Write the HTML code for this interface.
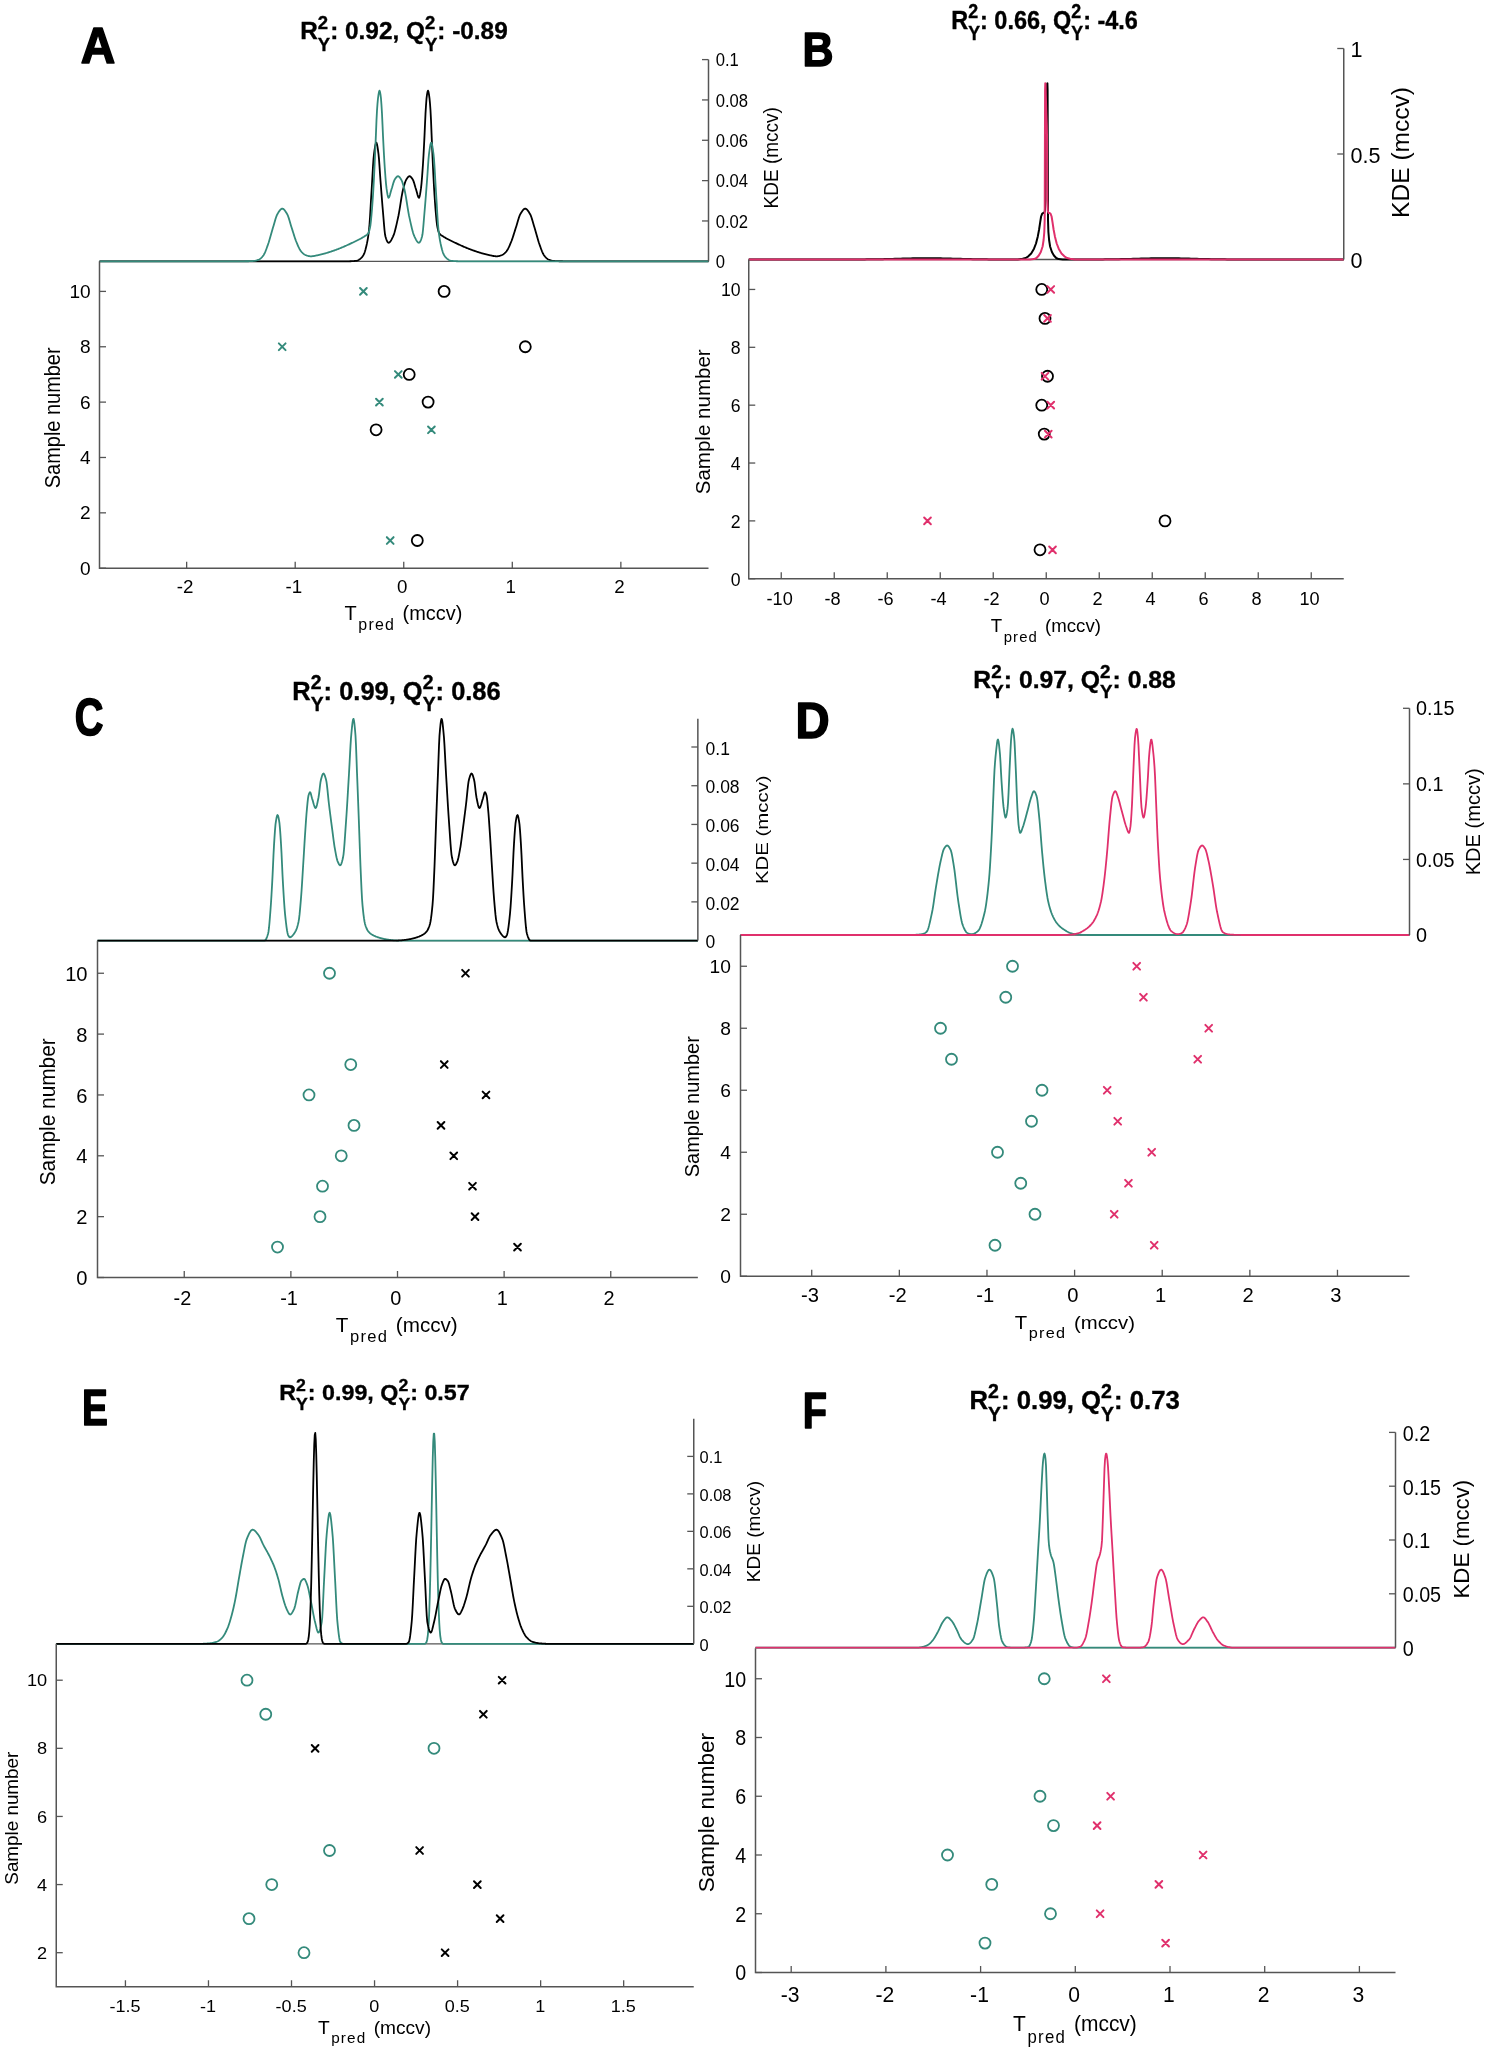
<!DOCTYPE html><html><head><meta charset="utf-8"><style>html,body{margin:0;padding:0;background:#fff;}svg{display:block;will-change:transform;}</style></head><body><svg width="1488" height="2051" viewBox="0 0 1488 2051" font-family='"Liberation Sans", sans-serif' fill="#000">
<rect width="1488" height="2051" fill="#fff"/>
<path d="M99.5 261.3H708.5" stroke="#555555" stroke-width="1.3" fill="none"/>
<path d="M99.50 261.30L349.00 261.29L349.50 261.28L350.00 261.26L350.50 261.25L351.00 261.23L351.50 261.20L352.00 261.18L352.50 261.15L353.00 261.12L353.50 261.08L354.00 261.04L354.50 261.00L355.00 260.95L355.50 260.91L356.00 260.85L356.50 260.80L357.00 260.70L357.50 260.54L358.00 260.31L358.50 260.03L359.00 259.71L359.50 259.36L360.00 258.99L360.50 258.60L361.00 258.18L361.50 257.69L362.00 257.13L362.50 256.48L363.00 255.75L363.50 254.93L364.00 254.00L364.50 252.80L365.00 251.30L365.50 249.54L366.00 247.58L366.50 245.47L367.00 243.17L367.50 240.58L368.00 237.60L368.50 234.14L369.00 230.10L369.50 224.57L370.00 217.20L370.50 208.80L371.00 200.14L371.50 192.00L372.00 183.77L372.50 174.93L373.00 166.40L373.50 159.11L374.00 154.00L374.50 150.34L375.00 147.04L375.50 144.43L376.00 142.88L376.50 142.74L377.00 144.18L377.50 146.83L378.00 150.25L378.50 154.00L379.00 159.14L379.50 166.15L380.00 173.75L380.50 180.71L381.00 187.29L381.50 193.85L382.00 200.29L382.50 206.45L383.00 212.24L383.50 218.30L384.00 224.44L384.50 229.99L385.00 234.30L385.50 236.74L386.00 238.35L386.50 239.78L387.00 240.97L387.50 241.90L388.00 242.52L388.50 242.79L389.00 242.72L389.50 242.43L390.00 241.94L390.50 241.29L391.00 240.51L391.50 239.62L392.00 238.65L392.50 237.64L393.00 236.61L393.50 235.49L394.00 234.13L394.50 232.55L395.00 230.78L395.50 228.85L396.00 226.78L396.50 224.62L397.00 222.39L397.50 220.13L398.00 217.85L398.50 215.48L399.00 212.79L399.50 209.86L400.00 206.78L400.50 203.63L401.00 200.49L401.50 197.44L402.00 194.57L402.50 191.96L403.00 189.69L403.50 187.77L404.00 185.94L404.50 184.21L405.00 182.64L405.50 181.25L406.00 180.11L406.50 179.25L407.00 178.49L407.50 177.78L408.00 177.15L408.50 176.65L409.00 176.32L409.50 176.20L410.00 176.31L410.50 176.62L411.00 177.09L411.50 177.69L412.00 178.37L412.50 179.10L413.00 179.93L413.50 181.12L414.00 182.60L414.50 184.26L415.00 185.98L415.50 187.66L416.00 189.20L416.50 190.91L417.00 192.80L417.50 194.66L418.00 196.26L418.50 197.38L419.00 197.80L419.50 196.92L420.00 194.67L420.50 191.58L421.00 188.19L421.50 183.62L422.00 177.70L422.50 170.94L423.00 163.71L423.50 155.23L424.00 145.82L424.50 135.89L425.00 124.49L425.50 113.71L426.00 105.48L426.50 98.71L427.00 94.67L427.50 91.81L428.00 90.60L428.50 91.86L429.00 94.71L429.50 98.29L430.00 103.61L430.50 110.47L431.00 119.96L431.50 132.61L432.00 144.64L432.50 156.23L433.00 167.09L433.50 177.38L434.00 186.91L434.50 195.15L435.00 202.53L435.50 209.17L436.00 215.00L436.50 220.32L437.00 224.73L437.50 227.56L438.00 229.86L438.50 231.69L439.00 232.96L439.50 233.70L440.00 234.25L440.50 234.69L441.00 235.06L441.50 235.38L442.00 235.68L442.50 236.00L443.00 236.33L443.50 236.66L444.00 236.97L444.50 237.28L445.00 237.58L445.50 237.88L446.00 238.17L446.50 238.45L447.00 238.72L447.50 238.99L448.00 239.26L448.50 239.52L449.00 239.78L449.50 240.03L450.00 240.28L450.50 240.53L451.00 240.77L451.50 241.02L452.00 241.26L452.50 241.50L453.00 241.74L453.50 241.97L454.00 242.21L454.50 242.45L455.00 242.69L455.50 242.93L456.00 243.17L456.50 243.40L457.00 243.64L457.50 243.87L458.00 244.11L458.50 244.34L459.00 244.57L459.50 244.80L460.00 245.03L460.50 245.26L461.00 245.48L461.50 245.71L462.00 245.93L462.50 246.15L463.00 246.37L463.50 246.59L464.00 246.81L464.50 247.02L465.00 247.24L465.50 247.45L466.00 247.66L466.50 247.87L467.00 248.07L467.50 248.27L468.00 248.48L468.50 248.67L469.00 248.87L469.50 249.07L470.00 249.26L470.50 249.45L471.00 249.64L471.50 249.82L472.00 250.00L472.50 250.18L473.00 250.36L473.50 250.53L474.00 250.71L474.50 250.88L475.00 251.05L475.50 251.22L476.00 251.39L476.50 251.56L477.00 251.73L477.50 251.90L478.00 252.06L478.50 252.22L479.00 252.38L479.50 252.54L480.00 252.70L480.50 252.85L481.00 253.00L481.50 253.15L482.00 253.30L482.50 253.44L483.00 253.59L483.50 253.72L484.00 253.86L484.50 253.99L485.00 254.12L485.50 254.24L486.00 254.36L486.50 254.48L487.00 254.59L487.50 254.70L488.00 254.81L488.50 254.92L489.00 255.03L489.50 255.15L490.00 255.27L490.50 255.38L491.00 255.49L491.50 255.60L492.00 255.71L492.50 255.81L493.00 255.90L493.50 255.99L494.00 256.07L494.50 256.14L495.00 256.20L495.50 256.24L496.00 256.28L496.50 256.30L497.00 256.30L497.50 256.27L498.00 256.22L498.50 256.13L499.00 256.02L499.50 255.89L500.00 255.75L500.50 255.59L501.00 255.41L501.50 255.24L502.00 255.04L502.50 254.79L503.00 254.49L503.50 254.15L504.00 253.77L504.50 253.34L505.00 252.87L505.50 252.38L506.00 251.85L506.50 251.28L507.00 250.62L507.50 249.84L508.00 248.95L508.50 247.96L509.00 246.91L509.50 245.79L510.00 244.63L510.50 243.44L511.00 242.24L511.50 241.00L512.00 239.65L512.50 238.21L513.00 236.70L513.50 235.14L514.00 233.56L514.50 231.96L515.00 230.37L515.50 228.81L516.00 227.29L516.50 225.68L517.00 223.98L517.50 222.26L518.00 220.54L518.50 218.89L519.00 217.34L519.50 215.94L520.00 214.75L520.50 213.80L521.00 212.99L521.50 212.19L522.00 211.43L522.50 210.71L523.00 210.07L523.50 209.51L524.00 209.08L524.50 208.77L525.00 208.61L525.50 208.63L526.00 208.82L526.50 209.15L527.00 209.62L527.50 210.19L528.00 210.85L528.50 211.57L529.00 212.35L529.50 213.15L530.00 213.97L530.50 214.96L531.00 216.17L531.50 217.57L532.00 219.11L532.50 220.76L533.00 222.47L533.50 224.20L534.00 225.92L534.50 227.58L535.00 229.21L535.50 230.92L536.00 232.69L536.50 234.49L537.00 236.30L537.50 238.08L538.00 239.82L538.50 241.48L539.00 243.03L539.50 244.47L540.00 245.89L540.50 247.30L541.00 248.69L541.50 250.03L542.00 251.29L542.50 252.46L543.00 253.52L543.50 254.44L544.00 255.20L544.50 255.86L545.00 256.48L545.50 257.06L546.00 257.59L546.50 258.08L547.00 258.52L547.50 258.91L548.00 259.24L548.50 259.51L549.00 259.73L549.50 259.92L550.00 260.10L550.50 260.27L551.00 260.42L551.50 260.55L552.00 260.67L552.50 260.77L553.00 260.85L553.50 260.91L554.00 260.97L554.50 261.02L555.00 261.06L555.50 261.10L556.00 261.14L556.50 261.16L557.00 261.19L557.50 261.20L558.00 261.21L558.50 261.22L559.00 261.23L559.50 261.24L560.00 261.24L560.50 261.25L561.00 261.26L561.50 261.26L562.00 261.27L562.50 261.27L563.00 261.28L563.50 261.28L708.50 261.30" stroke="#000000" stroke-width="1.8" fill="none" stroke-linejoin="round"/>
<path d="M99.50 261.30L244.00 261.28L244.50 261.28L245.00 261.27L245.50 261.27L246.00 261.26L246.50 261.26L247.00 261.25L247.50 261.24L248.00 261.24L248.50 261.23L249.00 261.22L249.50 261.21L250.00 261.20L250.50 261.19L251.00 261.16L251.50 261.14L252.00 261.10L252.50 261.06L253.00 261.02L253.50 260.97L254.00 260.91L254.50 260.85L255.00 260.77L255.50 260.67L256.00 260.55L256.50 260.42L257.00 260.27L257.50 260.10L258.00 259.92L258.50 259.73L259.00 259.51L259.50 259.24L260.00 258.91L260.50 258.52L261.00 258.08L261.50 257.59L262.00 257.06L262.50 256.48L263.00 255.86L263.50 255.20L264.00 254.44L264.50 253.52L265.00 252.46L265.50 251.29L266.00 250.03L266.50 248.69L267.00 247.30L267.50 245.89L268.00 244.47L268.50 243.03L269.00 241.48L269.50 239.82L270.00 238.08L270.50 236.30L271.00 234.49L271.50 232.69L272.00 230.92L272.50 229.21L273.00 227.58L273.50 225.92L274.00 224.20L274.50 222.47L275.00 220.76L275.50 219.11L276.00 217.57L276.50 216.17L277.00 214.96L277.50 213.97L278.00 213.15L278.50 212.35L279.00 211.57L279.50 210.85L280.00 210.19L280.50 209.62L281.00 209.15L281.50 208.82L282.00 208.63L282.50 208.61L283.00 208.77L283.50 209.08L284.00 209.51L284.50 210.07L285.00 210.71L285.50 211.43L286.00 212.19L286.50 212.99L287.00 213.80L287.50 214.75L288.00 215.94L288.50 217.34L289.00 218.89L289.50 220.54L290.00 222.26L290.50 223.98L291.00 225.68L291.50 227.29L292.00 228.81L292.50 230.37L293.00 231.96L293.50 233.56L294.00 235.14L294.50 236.70L295.00 238.21L295.50 239.65L296.00 241.00L296.50 242.24L297.00 243.44L297.50 244.63L298.00 245.79L298.50 246.91L299.00 247.96L299.50 248.95L300.00 249.84L300.50 250.62L301.00 251.28L301.50 251.85L302.00 252.38L302.50 252.87L303.00 253.34L303.50 253.77L304.00 254.15L304.50 254.49L305.00 254.79L305.50 255.04L306.00 255.24L306.50 255.41L307.00 255.59L307.50 255.75L308.00 255.89L308.50 256.02L309.00 256.13L309.50 256.22L310.00 256.27L310.50 256.30L311.00 256.30L311.50 256.28L312.00 256.24L312.50 256.20L313.00 256.14L313.50 256.07L314.00 255.99L314.50 255.90L315.00 255.81L315.50 255.71L316.00 255.60L316.50 255.49L317.00 255.38L317.50 255.27L318.00 255.15L318.50 255.03L319.00 254.92L319.50 254.81L320.00 254.70L320.50 254.59L321.00 254.48L321.50 254.36L322.00 254.24L322.50 254.12L323.00 253.99L323.50 253.86L324.00 253.72L324.50 253.59L325.00 253.44L325.50 253.30L326.00 253.15L326.50 253.00L327.00 252.85L327.50 252.70L328.00 252.54L328.50 252.38L329.00 252.22L329.50 252.06L330.00 251.90L330.50 251.73L331.00 251.56L331.50 251.39L332.00 251.22L332.50 251.05L333.00 250.88L333.50 250.71L334.00 250.53L334.50 250.36L335.00 250.18L335.50 250.00L336.00 249.82L336.50 249.64L337.00 249.45L337.50 249.26L338.00 249.07L338.50 248.87L339.00 248.67L339.50 248.48L340.00 248.27L340.50 248.07L341.00 247.87L341.50 247.66L342.00 247.45L342.50 247.24L343.00 247.02L343.50 246.81L344.00 246.59L344.50 246.37L345.00 246.15L345.50 245.93L346.00 245.71L346.50 245.48L347.00 245.26L347.50 245.03L348.00 244.80L348.50 244.57L349.00 244.34L349.50 244.11L350.00 243.87L350.50 243.64L351.00 243.40L351.50 243.17L352.00 242.93L352.50 242.69L353.00 242.45L353.50 242.21L354.00 241.97L354.50 241.74L355.00 241.50L355.50 241.26L356.00 241.02L356.50 240.77L357.00 240.53L357.50 240.28L358.00 240.03L358.50 239.78L359.00 239.52L359.50 239.26L360.00 238.99L360.50 238.72L361.00 238.45L361.50 238.17L362.00 237.88L362.50 237.58L363.00 237.28L363.50 236.97L364.00 236.66L364.50 236.33L365.00 236.00L365.50 235.68L366.00 235.38L366.50 235.06L367.00 234.69L367.50 234.25L368.00 233.70L368.50 232.96L369.00 231.69L369.50 229.86L370.00 227.56L370.50 224.73L371.00 220.32L371.50 215.00L372.00 209.17L372.50 202.53L373.00 195.15L373.50 186.91L374.00 177.38L374.50 167.09L375.00 156.23L375.50 144.64L376.00 132.61L376.50 119.96L377.00 110.47L377.50 103.61L378.00 98.29L378.50 94.71L379.00 91.86L379.50 90.60L380.00 91.81L380.50 94.67L381.00 98.71L381.50 105.48L382.00 113.71L382.50 124.49L383.00 135.89L383.50 145.82L384.00 155.23L384.50 163.71L385.00 170.94L385.50 177.70L386.00 183.62L386.50 188.19L387.00 191.58L387.50 194.67L388.00 196.92L388.50 197.80L389.00 197.38L389.50 196.26L390.00 194.66L390.50 192.80L391.00 190.91L391.50 189.20L392.00 187.66L392.50 185.98L393.00 184.26L393.50 182.60L394.00 181.12L394.50 179.93L395.00 179.10L395.50 178.37L396.00 177.69L396.50 177.09L397.00 176.62L397.50 176.31L398.00 176.20L398.50 176.32L399.00 176.65L399.50 177.15L400.00 177.78L400.50 178.49L401.00 179.25L401.50 180.11L402.00 181.25L402.50 182.64L403.00 184.21L403.50 185.94L404.00 187.77L404.50 189.69L405.00 191.96L405.50 194.57L406.00 197.44L406.50 200.49L407.00 203.63L407.50 206.78L408.00 209.86L408.50 212.79L409.00 215.48L409.50 217.85L410.00 220.13L410.50 222.39L411.00 224.62L411.50 226.78L412.00 228.85L412.50 230.78L413.00 232.55L413.50 234.13L414.00 235.49L414.50 236.61L415.00 237.64L415.50 238.65L416.00 239.62L416.50 240.51L417.00 241.29L417.50 241.94L418.00 242.43L418.50 242.72L419.00 242.79L419.50 242.52L420.00 241.90L420.50 240.97L421.00 239.78L421.50 238.35L422.00 236.74L422.50 234.30L423.00 229.99L423.50 224.44L424.00 218.30L424.50 212.24L425.00 206.45L425.50 200.29L426.00 193.85L426.50 187.29L427.00 180.71L427.50 173.75L428.00 166.15L428.50 159.14L429.00 154.00L429.50 150.25L430.00 146.83L430.50 144.18L431.00 142.74L431.50 142.88L432.00 144.43L432.50 147.04L433.00 150.34L433.50 154.00L434.00 159.11L434.50 166.40L435.00 174.93L435.50 183.77L436.00 192.00L436.50 200.14L437.00 208.80L437.50 217.20L438.00 224.57L438.50 230.10L439.00 234.14L439.50 237.60L440.00 240.58L440.50 243.17L441.00 245.47L441.50 247.58L442.00 249.54L442.50 251.30L443.00 252.80L443.50 254.00L444.00 254.93L444.50 255.75L445.00 256.48L445.50 257.13L446.00 257.69L446.50 258.18L447.00 258.60L447.50 258.99L448.00 259.36L448.50 259.71L449.00 260.03L449.50 260.31L450.00 260.54L450.50 260.70L451.00 260.80L451.50 260.85L452.00 260.91L452.50 260.95L453.00 261.00L453.50 261.04L454.00 261.08L454.50 261.12L455.00 261.15L455.50 261.18L456.00 261.20L456.50 261.23L457.00 261.25L457.50 261.26L458.00 261.28L458.50 261.29L708.50 261.30" stroke="#348a7b" stroke-width="1.8" fill="none" stroke-linejoin="round"/>
<path d="M99.5 261.3L99.5 568.2L708.5 568.2" stroke="#555555" stroke-width="1.5" fill="none"/>
<path d="M186.65 568.2V561.7" stroke="#555555" stroke-width="1.3"/>
<!--A_xt_rep 186.650 594.500-->
<g transform="translate(185.200 593.471) scale(1.0612 1.0585)"><text x="0" y="0" text-anchor="middle" font-size="17.7">-2</text></g>
<path d="M295.2 568.2V561.7" stroke="#555555" stroke-width="1.3"/>
<g transform="translate(293.750 593.471) scale(1.0612 1.0585)"><text x="0" y="0" text-anchor="middle" font-size="17.7">-1</text></g>
<path d="M403.75 568.2V561.7" stroke="#555555" stroke-width="1.3"/>
<g transform="translate(402.300 593.471) scale(1.0612 1.0585)"><text x="0" y="0" text-anchor="middle" font-size="17.7">0</text></g>
<path d="M512.3 568.2V561.7" stroke="#555555" stroke-width="1.3"/>
<g transform="translate(510.850 593.471) scale(1.0612 1.0585)"><text x="0" y="0" text-anchor="middle" font-size="17.7">1</text></g>
<path d="M620.85 568.2V561.7" stroke="#555555" stroke-width="1.3"/>
<g transform="translate(619.400 593.471) scale(1.0612 1.0585)"><text x="0" y="0" text-anchor="middle" font-size="17.7">2</text></g>
<path d="M99.5 568.2H106" stroke="#555555" stroke-width="1.3"/>
<g transform="translate(90.661 574.637) scale(1.0794 1.0000)"><text x="0" y="0" text-anchor="end" font-size="17.7">0</text></g>
<path d="M99.5 512.84H106" stroke="#555555" stroke-width="1.3"/>
<g transform="translate(90.661 519.277) scale(1.0794 1.0000)"><text x="0" y="0" text-anchor="end" font-size="17.7">2</text></g>
<path d="M99.5 457.48H106" stroke="#555555" stroke-width="1.3"/>
<g transform="translate(90.661 463.917) scale(1.0794 1.0000)"><text x="0" y="0" text-anchor="end" font-size="17.7">4</text></g>
<path d="M99.5 402.12H106" stroke="#555555" stroke-width="1.3"/>
<g transform="translate(90.661 408.557) scale(1.0794 1.0000)"><text x="0" y="0" text-anchor="end" font-size="17.7">6</text></g>
<path d="M99.5 346.76H106" stroke="#555555" stroke-width="1.3"/>
<g transform="translate(90.661 353.197) scale(1.0794 1.0000)"><text x="0" y="0" text-anchor="end" font-size="17.7">8</text></g>
<path d="M99.5 291.4H106" stroke="#555555" stroke-width="1.3"/>
<!--A_yt_rep 89.500 297.737-->
<g transform="translate(90.661 297.837) scale(1.0794 1.0000)"><text x="0" y="0" text-anchor="end" font-size="17.7">10</text></g>
<path d="M708.5 261.3V59.6" stroke="#555555" stroke-width="1.5" fill="none"/>
<g transform="translate(715.731 268.139) scale(0.9401 1.0233)"><text x="0" y="0" text-anchor="start" font-size="17.7">0</text></g>
<path d="M708.5 220.96H702" stroke="#555555" stroke-width="1.3"/>
<g transform="translate(715.731 227.799) scale(0.9401 1.0233)"><text x="0" y="0" text-anchor="start" font-size="17.7">0.02</text></g>
<path d="M708.5 180.62H702" stroke="#555555" stroke-width="1.3"/>
<g transform="translate(715.731 187.459) scale(0.9401 1.0233)"><text x="0" y="0" text-anchor="start" font-size="17.7">0.04</text></g>
<path d="M708.5 140.28H702" stroke="#555555" stroke-width="1.3"/>
<g transform="translate(715.731 147.119) scale(0.9401 1.0233)"><text x="0" y="0" text-anchor="start" font-size="17.7">0.06</text></g>
<path d="M708.5 99.94H702" stroke="#555555" stroke-width="1.3"/>
<g transform="translate(715.731 106.779) scale(0.9401 1.0233)"><text x="0" y="0" text-anchor="start" font-size="17.7">0.08</text></g>
<path d="M708.5 59.6H702" stroke="#555555" stroke-width="1.3"/>
<!--A_kt_rep 716.000 65.937-->
<g transform="translate(715.731 66.439) scale(0.9401 1.0233)"><text x="0" y="0" text-anchor="start" font-size="17.7">0.1</text></g>
<!--A_ylab 59.700 417.810--><g transform="translate(59.700 417.810) scale(1.0806 1.0132)"><text transform="rotate(-90)" text-anchor="middle" font-size="19.7">Sample number</text></g>
<!--A_klab 777.872 157.801--><g transform="translate(777.872 157.801) scale(1.0252 0.9649)"><text transform="rotate(-90)" text-anchor="middle" font-size="19.7">KDE (mccv)</text></g>
<!--A_xlab 344.595 619.976--><g transform="translate(344.595 619.976) scale(1.0122 1.0029)"><text x="0" y="0" font-size="19.7">T<tspan dx="1.58" dy="9.85" font-size="15.76" letter-spacing="1.18">pred</tspan><tspan dx="1.97" dy="-9.85"> (mccv)</tspan></text></g>
<path d="M360.05 288.05L366.75 294.75M360.05 294.75L366.75 288.05" stroke="#348a7b" stroke-width="2.0" stroke-linecap="round" fill="none"/>
<path d="M278.85 343.41L285.55 350.11M278.85 350.11L285.55 343.41" stroke="#348a7b" stroke-width="2.0" stroke-linecap="round" fill="none"/>
<path d="M394.95 371.09L401.65 377.79M394.95 377.79L401.65 371.09" stroke="#348a7b" stroke-width="2.0" stroke-linecap="round" fill="none"/>
<path d="M376.05 398.77L382.75 405.47M376.05 405.47L382.75 398.77" stroke="#348a7b" stroke-width="2.0" stroke-linecap="round" fill="none"/>
<path d="M428.05 426.45L434.75 433.15M428.05 433.15L434.75 426.45" stroke="#348a7b" stroke-width="2.0" stroke-linecap="round" fill="none"/>
<path d="M386.85 537.17L393.55 543.87M386.85 543.87L393.55 537.17" stroke="#348a7b" stroke-width="2.0" stroke-linecap="round" fill="none"/>
<circle cx="444.1" cy="291.4" r="5.5" fill="none" stroke="#000000" stroke-width="1.8"/>
<circle cx="525.3" cy="346.76" r="5.5" fill="none" stroke="#000000" stroke-width="1.8"/>
<circle cx="409.2" cy="374.44" r="5.5" fill="none" stroke="#000000" stroke-width="1.8"/>
<circle cx="428.1" cy="402.12" r="5.5" fill="none" stroke="#000000" stroke-width="1.8"/>
<circle cx="376.1" cy="429.8" r="5.5" fill="none" stroke="#000000" stroke-width="1.8"/>
<circle cx="417.3" cy="540.52" r="5.5" fill="none" stroke="#000000" stroke-width="1.8"/>
<!--A_letter 80.759 62.553--><g transform="translate(80.759 62.553) scale(0.9376 0.9701)"><text x="0" y="0" font-size="51" font-weight="bold" stroke="#000" stroke-width="1.6" stroke-linejoin="round">A</text></g>
<g transform="translate(300.17 39.39) scale(1.0158 1.0294)"><text x="0" y="0" font-size="24.0" font-weight="bold" stroke="#000" stroke-width="0.35">R<tspan font-size="18.24" dy="-10.32">2</tspan><tspan font-size="18.24" dx="-10.14" dy="21.12">Y</tspan><tspan dy="-10.8">: 0.92, Q</tspan><tspan font-size="18.24" dy="-10.32">2</tspan><tspan font-size="18.24" dx="-10.14" dy="21.12">Y</tspan><tspan dy="-10.8">: -0.89</tspan></text></g>
<path d="M748.75 259.5H1343.75" stroke="#555555" stroke-width="1.3" fill="none"/>
<path d="M748.75 259.50L750.75 259.50L752.75 259.50L754.75 259.50L756.75 259.50L758.75 259.50L760.75 259.50L762.75 259.50L764.75 259.50L766.75 259.50L768.75 259.50L770.75 259.50L772.75 259.50L774.75 259.50L776.75 259.50L778.75 259.50L780.75 259.50L782.75 259.50L784.75 259.50L786.75 259.50L788.75 259.50L790.75 259.50L792.75 259.50L794.75 259.50L796.75 259.50L798.75 259.50L800.75 259.50L802.75 259.50L804.75 259.50L806.75 259.50L808.75 259.50L810.75 259.50L812.75 259.50L814.75 259.50L816.75 259.50L818.75 259.50L820.75 259.50L822.75 259.50L824.75 259.50L826.75 259.50L828.75 259.50L830.75 259.50L832.75 259.50L834.75 259.49L836.75 259.49L838.75 259.49L840.75 259.49L842.75 259.49L844.75 259.48L846.75 259.48L848.75 259.47L850.75 259.47L852.75 259.46L854.75 259.45L856.75 259.44L858.75 259.43L860.75 259.42L862.75 259.41L864.75 259.39L866.75 259.37L868.75 259.35L870.75 259.33L872.75 259.30L874.75 259.27L876.75 259.24L878.75 259.21L880.75 259.17L882.75 259.13L884.75 259.08L886.75 259.04L888.75 258.99L890.75 258.94L892.75 258.88L894.75 258.83L896.75 258.77L898.75 258.72L900.75 258.66L902.75 258.61L904.75 258.55L906.75 258.50L908.75 258.45L910.75 258.40L912.75 258.36L914.75 258.32L916.75 258.28L918.75 258.26L920.75 258.23L922.75 258.21L924.75 258.20L926.75 258.20L928.75 258.20L930.75 258.21L932.75 258.23L934.75 258.25L936.75 258.28L938.75 258.31L940.75 258.35L942.75 258.39L944.75 258.44L946.75 258.49L948.75 258.54L950.75 258.59L952.75 258.65L954.75 258.70L956.75 258.76L958.75 258.82L960.75 258.87L962.75 258.92L964.75 258.98L966.75 259.03L968.75 259.07L970.75 259.12L972.75 259.16L974.75 259.20L976.75 259.23L978.75 259.26L980.75 259.29L982.75 259.32L984.75 259.35L986.75 259.37L988.75 259.39L990.75 259.40L992.75 259.42L994.75 259.43L996.75 259.44L998.75 259.45L1000.75 259.46L1002.75 259.47L1004.75 259.47L1006.75 259.48L1008.75 259.48L1010.75 259.49L1012.70 259.50L1012.75 259.49L1014.75 259.49L1016.75 259.49L1017.70 259.40L1022.60 258.80L1025.70 258.00L1028.30 256.30L1031.20 253.50L1034.00 248.70L1036.00 243.50L1037.80 236.40L1039.10 229.50L1040.20 222.10L1041.10 216.50L1042.10 213.80L1043.10 213.00L1044.10 213.00L1044.90 211.00L1045.40 200.00L1045.60 160.00L1045.70 135.00L1045.90 126.00L1046.40 112.00L1046.90 95.00L1047.10 83.80L1047.40 83.30L1047.60 90.00L1047.80 150.00L1048.00 220.00L1048.40 232.00L1049.10 240.00L1050.10 246.50L1051.90 252.00L1053.90 255.50L1056.20 258.00L1058.70 259.10L1062.70 259.40L1072.70 259.50L1075.00 259.49L1077.00 259.49L1079.00 259.49L1081.00 259.49L1083.00 259.48L1085.00 259.48L1087.00 259.47L1089.00 259.47L1091.00 259.46L1093.00 259.45L1095.00 259.44L1097.00 259.43L1099.00 259.42L1101.00 259.40L1103.00 259.39L1105.00 259.37L1107.00 259.35L1109.00 259.32L1111.00 259.30L1113.00 259.27L1115.00 259.24L1117.00 259.20L1119.00 259.16L1121.00 259.12L1123.00 259.08L1125.00 259.03L1127.00 258.98L1129.00 258.93L1131.00 258.88L1133.00 258.82L1135.00 258.77L1137.00 258.71L1139.00 258.66L1141.00 258.60L1143.00 258.55L1145.00 258.49L1147.00 258.44L1149.00 258.40L1151.00 258.35L1153.00 258.31L1155.00 258.28L1157.00 258.25L1159.00 258.23L1161.00 258.21L1163.00 258.20L1165.00 258.20L1167.00 258.20L1169.00 258.21L1171.00 258.23L1173.00 258.25L1175.00 258.28L1177.00 258.31L1179.00 258.35L1181.00 258.40L1183.00 258.44L1185.00 258.49L1187.00 258.55L1189.00 258.60L1191.00 258.66L1193.00 258.71L1195.00 258.77L1197.00 258.82L1199.00 258.88L1201.00 258.93L1203.00 258.98L1205.00 259.03L1207.00 259.08L1209.00 259.12L1211.00 259.16L1213.00 259.20L1215.00 259.24L1217.00 259.27L1219.00 259.30L1221.00 259.32L1223.00 259.35L1225.00 259.37L1227.00 259.39L1229.00 259.40L1231.00 259.42L1233.00 259.43L1235.00 259.44L1237.00 259.45L1239.00 259.46L1241.00 259.47L1243.00 259.47L1245.00 259.48L1247.00 259.48L1249.00 259.49L1251.00 259.49L1253.00 259.49L1255.00 259.49L1257.00 259.49L1259.00 259.50L1261.00 259.50L1263.00 259.50L1265.00 259.50L1267.00 259.50L1269.00 259.50L1271.00 259.50L1273.00 259.50L1275.00 259.50L1277.00 259.50L1279.00 259.50L1281.00 259.50L1283.00 259.50L1285.00 259.50L1287.00 259.50L1289.00 259.50L1291.00 259.50L1293.00 259.50L1295.00 259.50L1297.00 259.50L1299.00 259.50L1301.00 259.50L1303.00 259.50L1305.00 259.50L1307.00 259.50L1309.00 259.50L1311.00 259.50L1313.00 259.50L1315.00 259.50L1317.00 259.50L1319.00 259.50L1321.00 259.50L1323.00 259.50L1325.00 259.50L1327.00 259.50L1329.00 259.50L1331.00 259.50L1333.00 259.50L1335.00 259.50L1337.00 259.50L1339.00 259.50L1341.00 259.50L1343.00 259.50L1343.75 259.50" stroke="#000000" stroke-width="2.0" fill="none" stroke-linejoin="round"/>
<path d="M748.75 259.50L1020.00 259.50L1030.00 259.40L1034.00 259.10L1036.50 258.00L1038.80 255.50L1040.80 252.00L1042.60 246.50L1043.60 240.00L1044.30 232.00L1044.70 220.00L1044.90 150.00L1045.10 90.00L1045.30 83.30L1045.60 83.80L1045.80 95.00L1046.30 112.00L1046.80 126.00L1047.00 135.00L1047.10 160.00L1047.30 200.00L1047.80 211.00L1048.60 213.00L1049.60 213.00L1050.60 213.80L1051.60 216.50L1052.50 222.10L1053.60 229.50L1054.90 236.40L1056.70 243.50L1058.70 248.70L1061.50 253.50L1064.40 256.30L1067.00 258.00L1070.10 258.80L1075.00 259.40L1080.00 259.50L1343.75 259.50" stroke="#e0306c" stroke-width="2.0" fill="none" stroke-linejoin="round"/>
<path d="M748.75 259.5L748.75 578.75L1343.75 578.75" stroke="#555555" stroke-width="1.5" fill="none"/>
<path d="M781.25 578.75V572.25" stroke="#555555" stroke-width="1.3"/>
<!--B_xt_rep 781.250 605.000-->
<g transform="translate(779.614 605.302) scale(0.9804 1.0233)"><text x="0" y="0" text-anchor="middle" font-size="18.5">-10</text></g>
<path d="M834.25 578.75V572.25" stroke="#555555" stroke-width="1.3"/>
<g transform="translate(832.614 605.302) scale(0.9804 1.0233)"><text x="0" y="0" text-anchor="middle" font-size="18.5">-8</text></g>
<path d="M887.25 578.75V572.25" stroke="#555555" stroke-width="1.3"/>
<g transform="translate(885.614 605.302) scale(0.9804 1.0233)"><text x="0" y="0" text-anchor="middle" font-size="18.5">-6</text></g>
<path d="M940.25 578.75V572.25" stroke="#555555" stroke-width="1.3"/>
<g transform="translate(938.614 605.302) scale(0.9804 1.0233)"><text x="0" y="0" text-anchor="middle" font-size="18.5">-4</text></g>
<path d="M993.25 578.75V572.25" stroke="#555555" stroke-width="1.3"/>
<g transform="translate(991.614 605.302) scale(0.9804 1.0233)"><text x="0" y="0" text-anchor="middle" font-size="18.5">-2</text></g>
<path d="M1046.25 578.75V572.25" stroke="#555555" stroke-width="1.3"/>
<g transform="translate(1044.614 605.302) scale(0.9804 1.0233)"><text x="0" y="0" text-anchor="middle" font-size="18.5">0</text></g>
<path d="M1099.25 578.75V572.25" stroke="#555555" stroke-width="1.3"/>
<g transform="translate(1097.614 605.302) scale(0.9804 1.0233)"><text x="0" y="0" text-anchor="middle" font-size="18.5">2</text></g>
<path d="M1152.25 578.75V572.25" stroke="#555555" stroke-width="1.3"/>
<g transform="translate(1150.614 605.302) scale(0.9804 1.0233)"><text x="0" y="0" text-anchor="middle" font-size="18.5">4</text></g>
<path d="M1205.25 578.75V572.25" stroke="#555555" stroke-width="1.3"/>
<g transform="translate(1203.614 605.302) scale(0.9804 1.0233)"><text x="0" y="0" text-anchor="middle" font-size="18.5">6</text></g>
<path d="M1258.25 578.75V572.25" stroke="#555555" stroke-width="1.3"/>
<g transform="translate(1256.614 605.302) scale(0.9804 1.0233)"><text x="0" y="0" text-anchor="middle" font-size="18.5">8</text></g>
<path d="M1311.25 578.75V572.25" stroke="#555555" stroke-width="1.3"/>
<g transform="translate(1309.614 605.302) scale(0.9804 1.0233)"><text x="0" y="0" text-anchor="middle" font-size="18.5">10</text></g>
<path d="M748.75 578.75H755.25" stroke="#555555" stroke-width="1.3"/>
<g transform="translate(740.552 585.785) scale(0.9538 1.0170)"><text x="0" y="0" text-anchor="end" font-size="18.5">0</text></g>
<path d="M748.75 520.89H755.25" stroke="#555555" stroke-width="1.3"/>
<g transform="translate(740.552 527.925) scale(0.9538 1.0170)"><text x="0" y="0" text-anchor="end" font-size="18.5">2</text></g>
<path d="M748.75 463.03H755.25" stroke="#555555" stroke-width="1.3"/>
<g transform="translate(740.552 470.065) scale(0.9538 1.0170)"><text x="0" y="0" text-anchor="end" font-size="18.5">4</text></g>
<path d="M748.75 405.17H755.25" stroke="#555555" stroke-width="1.3"/>
<g transform="translate(740.552 412.205) scale(0.9538 1.0170)"><text x="0" y="0" text-anchor="end" font-size="18.5">6</text></g>
<path d="M748.75 347.31H755.25" stroke="#555555" stroke-width="1.3"/>
<g transform="translate(740.552 354.345) scale(0.9538 1.0170)"><text x="0" y="0" text-anchor="end" font-size="18.5">8</text></g>
<path d="M748.75 289.45H755.25" stroke="#555555" stroke-width="1.3"/>
<!--B_yt_rep 739.750 296.073-->
<g transform="translate(740.552 296.485) scale(0.9538 1.0170)"><text x="0" y="0" text-anchor="end" font-size="18.5">10</text></g>
<path d="M1343.75 259.5V48.5" stroke="#555555" stroke-width="1.5" fill="none"/>
<g transform="translate(1350.477 268.034) scale(1.1662 1.2356)"><text x="0" y="0" text-anchor="start" font-size="18.5">0</text></g>
<path d="M1343.75 154H1337.25" stroke="#555555" stroke-width="1.3"/>
<!--B_kt_rep 1351.750 160.623-->
<g transform="translate(1350.477 162.534) scale(1.1662 1.2356)"><text x="0" y="0" text-anchor="start" font-size="18.5">0.5</text></g>
<path d="M1343.75 48.5H1337.25" stroke="#555555" stroke-width="1.3"/>
<g transform="translate(1350.477 57.034) scale(1.1662 1.2356)"><text x="0" y="0" text-anchor="start" font-size="18.5">1</text></g>
<!--B_ylab 710.347 421.801--><g transform="translate(710.347 421.801) scale(0.9972 1.0071)"><text transform="rotate(-90)" text-anchor="middle" font-size="20.4">Sample number</text></g>
<!--B_klab 1408.809 152.445--><g transform="translate(1408.809 152.445) scale(1.1491 1.2038)"><text transform="rotate(-90)" text-anchor="middle" font-size="20.4">KDE (mccv)</text></g>
<!--B_xlab 990.815 632.476--><g transform="translate(990.815 632.476) scale(0.9138 0.9247)"><text x="0" y="0" font-size="20.4">T<tspan dx="1.63" dy="10.2" font-size="16.32" letter-spacing="1.22">pred</tspan><tspan dx="2.04" dy="-10.2"> (mccv)</tspan></text></g>
<circle cx="1041.75" cy="289.45" r="5.5" fill="none" stroke="#000000" stroke-width="1.8"/>
<circle cx="1045" cy="318.38" r="5.5" fill="none" stroke="#000000" stroke-width="1.8"/>
<circle cx="1047.5" cy="376.24" r="5.5" fill="none" stroke="#000000" stroke-width="1.8"/>
<circle cx="1041.75" cy="405.17" r="5.5" fill="none" stroke="#000000" stroke-width="1.8"/>
<circle cx="1044.25" cy="434.1" r="5.5" fill="none" stroke="#000000" stroke-width="1.8"/>
<circle cx="1165" cy="520.89" r="5.5" fill="none" stroke="#000000" stroke-width="1.8"/>
<circle cx="1040" cy="549.82" r="5.5" fill="none" stroke="#000000" stroke-width="1.8"/>
<path d="M1047.4 286.1L1054.1 292.8M1047.4 292.8L1054.1 286.1" stroke="#e0306c" stroke-width="2.0" stroke-linecap="round" fill="none"/>
<path d="M1044.15 315.03L1050.85 321.73M1044.15 321.73L1050.85 315.03" stroke="#e0306c" stroke-width="2.0" stroke-linecap="round" fill="none"/>
<path d="M1041.65 372.89L1048.35 379.59M1041.65 379.59L1048.35 372.89" stroke="#e0306c" stroke-width="2.0" stroke-linecap="round" fill="none"/>
<path d="M1047.4 401.82L1054.1 408.52M1047.4 408.52L1054.1 401.82" stroke="#e0306c" stroke-width="2.0" stroke-linecap="round" fill="none"/>
<path d="M1044.9 430.75L1051.6 437.45M1044.9 437.45L1051.6 430.75" stroke="#e0306c" stroke-width="2.0" stroke-linecap="round" fill="none"/>
<path d="M924.15 517.54L930.85 524.24M924.15 524.24L930.85 517.54" stroke="#e0306c" stroke-width="2.0" stroke-linecap="round" fill="none"/>
<path d="M1049.15 546.47L1055.85 553.17M1049.15 553.17L1055.85 546.47" stroke="#e0306c" stroke-width="2.0" stroke-linecap="round" fill="none"/>
<!--B_letter 802.426 66.089--><g transform="translate(802.426 66.089) scale(0.8421 0.9493)"><text x="0" y="0" font-size="51" font-weight="bold" stroke="#000" stroke-width="1.6" stroke-linejoin="round">B</text></g>
<g transform="translate(951.23 28.59) scale(0.9772 1.0647)"><text x="0" y="0" font-size="24.0" font-weight="bold" stroke="#000" stroke-width="0.35">R<tspan font-size="18.24" dy="-10.32">2</tspan><tspan font-size="18.24" dx="-10.14" dy="21.12">Y</tspan><tspan dy="-10.8">: 0.66, Q</tspan><tspan font-size="18.24" dy="-10.32">2</tspan><tspan font-size="18.24" dx="-10.14" dy="21.12">Y</tspan><tspan dy="-10.8">: -4.6</tspan></text></g>
<path d="M97.5 940.6H697.85" stroke="#555555" stroke-width="1.3" fill="none"/>
<path d="M97.50 940.60L264.50 940.60L265.00 940.47L265.50 940.01L266.00 939.27L266.50 938.28L267.00 937.04L267.50 935.58L268.00 933.92L268.50 931.71L269.00 927.72L269.50 922.36L270.00 916.20L270.50 909.80L271.00 902.81L271.50 894.72L272.00 885.94L272.50 876.65L273.00 865.84L273.50 854.81L274.00 845.40L274.50 837.42L275.00 830.08L275.50 824.31L276.00 820.81L276.50 818.08L277.00 816.02L277.50 815.03L278.00 815.53L278.50 817.41L279.00 820.16L279.50 823.47L280.00 828.83L280.50 835.90L281.00 843.80L281.50 852.81L282.00 863.81L282.50 874.79L283.00 883.95L283.50 892.45L284.00 900.45L284.50 907.62L285.00 913.61L285.50 918.36L286.00 922.77L286.50 926.79L287.00 930.25L287.50 932.96L288.00 934.76L288.50 935.82L289.00 936.68L289.50 937.20L290.00 937.29L290.50 937.17L291.00 936.93L291.50 936.59L292.00 936.15L292.50 935.62L293.00 935.03L293.50 934.37L294.00 933.66L294.50 932.92L295.00 932.16L295.50 931.32L296.00 930.32L296.50 929.12L297.00 927.70L297.50 926.05L298.00 924.14L298.50 921.97L299.00 919.11L299.50 914.94L300.00 909.80L300.50 904.07L301.00 898.10L301.50 891.54L302.00 884.03L302.50 875.99L303.00 867.81L303.50 859.80L304.00 851.51L304.50 843.17L305.00 835.21L305.50 827.69L306.00 820.35L306.50 813.71L307.00 808.18L307.50 802.96L308.00 798.47L308.50 795.46L309.00 793.93L309.50 792.78L310.00 792.22L310.50 792.68L311.00 794.27L311.50 796.35L312.00 798.29L312.50 799.86L313.00 801.61L313.50 803.39L314.00 805.07L314.50 806.50L315.00 807.52L315.50 807.99L316.00 807.69L316.50 806.54L317.00 804.73L317.50 802.49L318.00 800.01L318.50 797.50L319.00 794.31L319.50 790.14L320.00 785.77L320.50 781.99L321.00 779.52L321.50 777.65L322.00 775.96L322.50 774.60L323.00 773.73L323.50 773.51L324.00 773.93L324.50 774.84L325.00 776.16L325.50 777.76L326.00 779.53L326.50 781.88L327.00 785.55L327.50 790.10L328.00 795.08L328.50 800.04L329.00 804.50L329.50 808.53L330.00 812.51L330.50 816.43L331.00 820.30L331.50 824.12L332.00 827.90L332.50 831.74L333.00 835.65L333.50 839.50L334.00 843.17L334.50 846.53L335.00 849.45L335.50 852.20L336.00 854.84L336.50 857.26L337.00 859.37L337.50 861.05L338.00 862.23L338.50 863.28L339.00 864.20L339.50 864.89L340.00 865.26L340.50 865.18L341.00 864.50L341.50 863.31L342.00 861.69L342.50 859.74L343.00 857.56L343.50 854.58L344.00 849.76L344.50 843.58L345.00 836.54L345.50 829.18L346.00 822.00L346.50 814.75L347.00 806.95L347.50 798.77L348.00 790.36L348.50 781.90L349.00 773.51L349.50 764.36L350.00 754.73L350.50 745.58L351.00 737.86L351.50 732.23L352.00 727.10L352.50 722.65L353.00 719.64L353.50 718.86L354.00 720.65L354.50 724.47L355.00 729.64L355.50 735.62L356.00 745.55L356.50 758.86L357.00 772.64L357.50 785.30L358.00 798.20L358.50 811.35L359.00 824.71L359.50 838.96L360.00 853.34L360.50 866.45L361.00 878.03L361.50 889.09L362.00 898.49L362.50 905.08L363.00 910.15L363.50 914.59L364.00 918.39L364.50 921.50L365.00 923.91L365.50 925.62L366.00 927.03L366.50 928.25L367.00 929.30L367.50 930.20L368.00 930.97L368.50 931.64L369.00 932.22L369.50 932.74L370.00 933.19L370.50 933.60L371.00 933.96L371.50 934.29L372.00 934.60L372.50 934.89L373.00 935.17L373.50 935.43L374.00 935.69L374.50 935.93L375.00 936.15L375.50 936.37L376.00 936.58L376.50 936.77L377.00 936.96L377.50 937.13L378.00 937.30L378.50 937.46L379.00 937.62L379.50 937.77L380.00 937.92L380.50 938.06L381.00 938.20L381.50 938.33L382.00 938.46L382.50 938.58L383.00 938.70L383.50 938.82L384.00 938.92L384.50 939.03L385.00 939.12L385.50 939.21L386.00 939.30L386.50 939.38L387.00 939.46L387.50 939.54L388.00 939.62L388.50 939.70L389.00 939.77L389.50 939.84L390.00 939.91L390.50 939.97L391.00 940.04L391.50 940.10L392.00 940.15L392.50 940.20L393.00 940.25L393.50 940.30L394.00 940.34L394.50 940.37L395.00 940.40L395.50 940.43L396.00 940.45L396.50 940.48L397.00 940.51L397.50 940.53L398.00 940.56L398.50 940.58L399.00 940.60L697.85 940.60" stroke="#348a7b" stroke-width="1.8" fill="none" stroke-linejoin="round"/>
<path d="M97.50 940.60L396.00 940.60L396.50 940.58L397.00 940.56L397.50 940.53L398.00 940.51L398.50 940.48L399.00 940.45L399.50 940.43L400.00 940.40L400.50 940.37L401.00 940.34L401.50 940.30L402.00 940.25L402.50 940.20L403.00 940.15L403.50 940.10L404.00 940.04L404.50 939.97L405.00 939.91L405.50 939.84L406.00 939.77L406.50 939.70L407.00 939.62L407.50 939.54L408.00 939.46L408.50 939.38L409.00 939.30L409.50 939.21L410.00 939.12L410.50 939.03L411.00 938.92L411.50 938.82L412.00 938.70L412.50 938.58L413.00 938.46L413.50 938.33L414.00 938.20L414.50 938.06L415.00 937.92L415.50 937.77L416.00 937.62L416.50 937.46L417.00 937.30L417.50 937.13L418.00 936.96L418.50 936.77L419.00 936.58L419.50 936.37L420.00 936.15L420.50 935.93L421.00 935.69L421.50 935.43L422.00 935.17L422.50 934.89L423.00 934.60L423.50 934.29L424.00 933.96L424.50 933.60L425.00 933.19L425.50 932.74L426.00 932.22L426.50 931.64L427.00 930.97L427.50 930.20L428.00 929.30L428.50 928.25L429.00 927.03L429.50 925.62L430.00 923.91L430.50 921.50L431.00 918.39L431.50 914.59L432.00 910.15L432.50 905.08L433.00 898.49L433.50 889.09L434.00 878.03L434.50 866.45L435.00 853.34L435.50 838.96L436.00 824.71L436.50 811.35L437.00 798.20L437.50 785.30L438.00 772.64L438.50 758.86L439.00 745.55L439.50 735.62L440.00 729.64L440.50 724.47L441.00 720.65L441.50 718.86L442.00 719.64L442.50 722.65L443.00 727.10L443.50 732.23L444.00 737.86L444.50 745.58L445.00 754.73L445.50 764.36L446.00 773.51L446.50 781.90L447.00 790.36L447.50 798.77L448.00 806.95L448.50 814.75L449.00 822.00L449.50 829.18L450.00 836.54L450.50 843.58L451.00 849.76L451.50 854.58L452.00 857.56L452.50 859.74L453.00 861.69L453.50 863.31L454.00 864.50L454.50 865.18L455.00 865.26L455.50 864.89L456.00 864.20L456.50 863.28L457.00 862.23L457.50 861.05L458.00 859.37L458.50 857.26L459.00 854.84L459.50 852.20L460.00 849.45L460.50 846.53L461.00 843.17L461.50 839.50L462.00 835.65L462.50 831.74L463.00 827.90L463.50 824.12L464.00 820.30L464.50 816.43L465.00 812.51L465.50 808.53L466.00 804.50L466.50 800.04L467.00 795.08L467.50 790.10L468.00 785.55L468.50 781.88L469.00 779.53L469.50 777.76L470.00 776.16L470.50 774.84L471.00 773.93L471.50 773.51L472.00 773.73L472.50 774.60L473.00 775.96L473.50 777.65L474.00 779.52L474.50 781.99L475.00 785.77L475.50 790.14L476.00 794.31L476.50 797.50L477.00 800.01L477.50 802.49L478.00 804.73L478.50 806.54L479.00 807.69L479.50 807.99L480.00 807.52L480.50 806.50L481.00 805.07L481.50 803.39L482.00 801.61L482.50 799.86L483.00 798.29L483.50 796.35L484.00 794.27L484.50 792.68L485.00 792.22L485.50 792.78L486.00 793.93L486.50 795.46L487.00 798.47L487.50 802.96L488.00 808.18L488.50 813.71L489.00 820.35L489.50 827.69L490.00 835.21L490.50 843.17L491.00 851.51L491.50 859.80L492.00 867.81L492.50 875.99L493.00 884.03L493.50 891.54L494.00 898.10L494.50 904.07L495.00 909.80L495.50 914.94L496.00 919.11L496.50 921.97L497.00 924.14L497.50 926.05L498.00 927.70L498.50 929.12L499.00 930.32L499.50 931.32L500.00 932.16L500.50 932.92L501.00 933.66L501.50 934.37L502.00 935.03L502.50 935.62L503.00 936.15L503.50 936.59L504.00 936.93L504.50 937.17L505.00 937.29L505.50 937.20L506.00 936.68L506.50 935.82L507.00 934.76L507.50 932.96L508.00 930.25L508.50 926.79L509.00 922.77L509.50 918.36L510.00 913.61L510.50 907.62L511.00 900.45L511.50 892.45L512.00 883.95L512.50 874.79L513.00 863.81L513.50 852.81L514.00 843.80L514.50 835.90L515.00 828.83L515.50 823.47L516.00 820.16L516.50 817.41L517.00 815.53L517.50 815.03L518.00 816.02L518.50 818.08L519.00 820.81L519.50 824.31L520.00 830.08L520.50 837.42L521.00 845.40L521.50 854.81L522.00 865.84L522.50 876.65L523.00 885.94L523.50 894.72L524.00 902.81L524.50 909.80L525.00 916.20L525.50 922.36L526.00 927.72L526.50 931.71L527.00 933.92L527.50 935.58L528.00 937.04L528.50 938.28L529.00 939.27L529.50 940.01L530.00 940.47L530.50 940.60L697.85 940.60" stroke="#000000" stroke-width="1.8" fill="none" stroke-linejoin="round"/>
<path d="M97.5 940.75L97.5 1277.5L697.85 1277.5" stroke="#555555" stroke-width="1.5" fill="none"/>
<path d="M184.25 1277.5V1271" stroke="#555555" stroke-width="1.3"/>
<!--C_xt_rep 184.250 1304.000-->
<g transform="translate(182.443 1305.076) scale(1.1373 1.1108)"><text x="0" y="0" text-anchor="middle" font-size="17.5">-2</text></g>
<path d="M290.88 1277.5V1271" stroke="#555555" stroke-width="1.3"/>
<g transform="translate(289.068 1305.076) scale(1.1373 1.1108)"><text x="0" y="0" text-anchor="middle" font-size="17.5">-1</text></g>
<path d="M397.5 1277.5V1271" stroke="#555555" stroke-width="1.3"/>
<g transform="translate(395.693 1305.076) scale(1.1373 1.1108)"><text x="0" y="0" text-anchor="middle" font-size="17.5">0</text></g>
<path d="M504.12 1277.5V1271" stroke="#555555" stroke-width="1.3"/>
<g transform="translate(502.318 1305.076) scale(1.1373 1.1108)"><text x="0" y="0" text-anchor="middle" font-size="17.5">1</text></g>
<path d="M610.75 1277.5V1271" stroke="#555555" stroke-width="1.3"/>
<g transform="translate(608.943 1305.076) scale(1.1373 1.1108)"><text x="0" y="0" text-anchor="middle" font-size="17.5">2</text></g>
<path d="M97.5 1277.5H104" stroke="#555555" stroke-width="1.3"/>
<g transform="translate(87.576 1285.150) scale(1.1521 1.1351)"><text x="0" y="0" text-anchor="end" font-size="17.5">0</text></g>
<path d="M97.5 1216.65H104" stroke="#555555" stroke-width="1.3"/>
<g transform="translate(87.576 1224.300) scale(1.1521 1.1351)"><text x="0" y="0" text-anchor="end" font-size="17.5">2</text></g>
<path d="M97.5 1155.8H104" stroke="#555555" stroke-width="1.3"/>
<g transform="translate(87.576 1163.450) scale(1.1521 1.1351)"><text x="0" y="0" text-anchor="end" font-size="17.5">4</text></g>
<path d="M97.5 1094.95H104" stroke="#555555" stroke-width="1.3"/>
<g transform="translate(87.576 1102.600) scale(1.1521 1.1351)"><text x="0" y="0" text-anchor="end" font-size="17.5">6</text></g>
<path d="M97.5 1034.1H104" stroke="#555555" stroke-width="1.3"/>
<g transform="translate(87.576 1041.750) scale(1.1521 1.1351)"><text x="0" y="0" text-anchor="end" font-size="17.5">8</text></g>
<path d="M97.5 973.25H104" stroke="#555555" stroke-width="1.3"/>
<!--C_yt_rep 88.500 979.515-->
<g transform="translate(87.576 980.900) scale(1.1521 1.1351)"><text x="0" y="0" text-anchor="end" font-size="17.5">10</text></g>
<path d="M697.85 940.6V718.8" stroke="#555555" stroke-width="1.5" fill="none"/>
<g transform="translate(705.550 948.286) scale(1.0000 1.0868)"><text x="0" y="0" text-anchor="start" font-size="17.5">0</text></g>
<path d="M697.85 901.88H691.35" stroke="#555555" stroke-width="1.3"/>
<g transform="translate(705.550 909.566) scale(1.0000 1.0868)"><text x="0" y="0" text-anchor="start" font-size="17.5">0.02</text></g>
<path d="M697.85 863.16H691.35" stroke="#555555" stroke-width="1.3"/>
<g transform="translate(705.550 870.846) scale(1.0000 1.0868)"><text x="0" y="0" text-anchor="start" font-size="17.5">0.04</text></g>
<path d="M697.85 824.44H691.35" stroke="#555555" stroke-width="1.3"/>
<g transform="translate(705.550 832.126) scale(1.0000 1.0868)"><text x="0" y="0" text-anchor="start" font-size="17.5">0.06</text></g>
<path d="M697.85 785.72H691.35" stroke="#555555" stroke-width="1.3"/>
<g transform="translate(705.550 793.406) scale(1.0000 1.0868)"><text x="0" y="0" text-anchor="start" font-size="17.5">0.08</text></g>
<path d="M697.85 747H691.35" stroke="#555555" stroke-width="1.3"/>
<!--C_kt_rep 705.850 753.265-->
<g transform="translate(705.550 754.686) scale(1.0000 1.0868)"><text x="0" y="0" text-anchor="start" font-size="17.5">0.1</text></g>
<!--C_ylab 55.441 1111.819--><g transform="translate(55.441 1111.819) scale(1.1017 1.0311)"><text transform="rotate(-90)" text-anchor="middle" font-size="20.2">Sample number</text></g>
<!--C_klab 768.182 829.702--><g transform="translate(768.182 829.702) scale(0.8451 1.0096)"><text transform="rotate(-90)" text-anchor="middle" font-size="20.2">KDE (mccv)</text></g>
<!--C_xlab 335.796 1331.905--><g transform="translate(335.796 1331.905) scale(1.0221 1.0090)"><text x="0" y="0" font-size="20.2">T<tspan dx="1.62" dy="10.1" font-size="16.16" letter-spacing="1.21">pred</tspan><tspan dx="2.02" dy="-10.1"> (mccv)</tspan></text></g>
<circle cx="329.5" cy="973.25" r="5.5" fill="none" stroke="#348a7b" stroke-width="1.8"/>
<circle cx="350.75" cy="1064.53" r="5.5" fill="none" stroke="#348a7b" stroke-width="1.8"/>
<circle cx="309" cy="1094.95" r="5.5" fill="none" stroke="#348a7b" stroke-width="1.8"/>
<circle cx="354" cy="1125.38" r="5.5" fill="none" stroke="#348a7b" stroke-width="1.8"/>
<circle cx="341.25" cy="1155.8" r="5.5" fill="none" stroke="#348a7b" stroke-width="1.8"/>
<circle cx="322.5" cy="1186.22" r="5.5" fill="none" stroke="#348a7b" stroke-width="1.8"/>
<circle cx="320" cy="1216.65" r="5.5" fill="none" stroke="#348a7b" stroke-width="1.8"/>
<circle cx="277.5" cy="1247.08" r="5.5" fill="none" stroke="#348a7b" stroke-width="1.8"/>
<path d="M462.15 969.9L468.85 976.6M462.15 976.6L468.85 969.9" stroke="#000000" stroke-width="2.0" stroke-linecap="round" fill="none"/>
<path d="M440.9 1061.18L447.6 1067.88M440.9 1067.88L447.6 1061.18" stroke="#000000" stroke-width="2.0" stroke-linecap="round" fill="none"/>
<path d="M482.65 1091.6L489.35 1098.3M482.65 1098.3L489.35 1091.6" stroke="#000000" stroke-width="2.0" stroke-linecap="round" fill="none"/>
<path d="M437.65 1122.03L444.35 1128.72M437.65 1128.72L444.35 1122.03" stroke="#000000" stroke-width="2.0" stroke-linecap="round" fill="none"/>
<path d="M450.4 1152.45L457.1 1159.15M450.4 1159.15L457.1 1152.45" stroke="#000000" stroke-width="2.0" stroke-linecap="round" fill="none"/>
<path d="M469.15 1182.88L475.85 1189.57M469.15 1189.57L475.85 1182.88" stroke="#000000" stroke-width="2.0" stroke-linecap="round" fill="none"/>
<path d="M471.65 1213.3L478.35 1220M471.65 1220L478.35 1213.3" stroke="#000000" stroke-width="2.0" stroke-linecap="round" fill="none"/>
<path d="M514.15 1243.73L520.85 1250.42M514.15 1250.42L520.85 1243.73" stroke="#000000" stroke-width="2.0" stroke-linecap="round" fill="none"/>
<!--C_letter 74.800 734.691--><g transform="translate(74.800 734.691) scale(0.7793 1.0072)"><text x="0" y="0" font-size="51" font-weight="bold" stroke="#000" stroke-width="1.6" stroke-linejoin="round">C</text></g>
<g transform="translate(292.3 699.59) scale(1.0613 1.0647)"><text x="0" y="0" font-size="24.0" font-weight="bold" stroke="#000" stroke-width="0.35">R<tspan font-size="18.24" dy="-10.32">2</tspan><tspan font-size="18.24" dx="-10.14" dy="21.12">Y</tspan><tspan dy="-10.8">: 0.99, Q</tspan><tspan font-size="18.24" dy="-10.32">2</tspan><tspan font-size="18.24" dx="-10.14" dy="21.12">Y</tspan><tspan dy="-10.8">: 0.86</tspan></text></g>
<path d="M740.5 935H1409.5" stroke="#555555" stroke-width="1.3" fill="none"/>
<path d="M740.50 935.00L907.50 934.98L908.00 934.98L908.50 934.97L909.00 934.96L909.50 934.95L910.00 934.94L910.50 934.93L911.00 934.92L911.50 934.91L912.00 934.89L912.50 934.88L913.00 934.86L913.50 934.85L914.00 934.83L914.50 934.82L915.00 934.80L915.50 934.78L916.00 934.76L916.50 934.73L917.00 934.70L917.50 934.67L918.00 934.63L918.50 934.59L919.00 934.54L919.50 934.49L920.00 934.43L920.50 934.37L921.00 934.30L921.50 934.22L922.00 934.12L922.50 933.99L923.00 933.84L923.50 933.67L924.00 933.46L924.50 933.23L925.00 932.97L925.50 932.68L926.00 932.36L926.50 932.00L927.00 931.43L927.50 930.49L928.00 929.22L928.50 927.67L929.00 925.88L929.50 923.89L930.00 921.75L930.50 919.50L931.00 917.18L931.50 914.83L932.00 912.50L932.50 909.97L933.00 907.06L933.50 903.87L934.00 900.48L934.50 896.99L935.00 893.49L935.50 890.07L936.00 886.83L936.50 883.82L937.00 880.85L937.50 877.89L938.00 874.96L938.50 872.10L939.00 869.32L939.50 866.66L940.00 864.14L940.50 861.79L941.00 859.58L941.50 857.35L942.00 855.18L942.50 853.14L943.00 851.34L943.50 849.86L944.00 848.80L944.50 847.99L945.00 847.24L945.50 846.57L946.00 846.04L946.50 845.67L947.00 845.50L947.50 845.58L948.00 845.88L948.50 846.37L949.00 847.03L949.50 847.82L950.00 848.72L950.50 849.70L951.00 850.93L951.50 852.79L952.00 855.15L952.50 857.88L953.00 860.85L953.50 863.94L954.00 867.02L954.50 870.45L955.00 874.33L955.50 878.52L956.00 882.89L956.50 887.31L957.00 891.64L957.50 895.74L958.00 899.48L958.50 902.78L959.00 906.01L959.50 909.22L960.00 912.34L960.50 915.30L961.00 918.06L961.50 920.54L962.00 922.69L962.50 924.43L963.00 925.79L963.50 927.04L964.00 928.21L964.50 929.29L965.00 930.25L965.50 931.09L966.00 931.80L966.50 932.35L967.00 932.74L967.50 933.01L968.00 933.26L968.50 933.49L969.00 933.69L969.50 933.86L970.00 934.00L970.50 934.11L971.00 934.18L971.50 934.20L972.00 934.18L972.50 934.10L973.00 933.99L973.50 933.83L974.00 933.64L974.50 933.41L975.00 933.14L975.50 932.85L976.00 932.52L976.50 932.17L977.00 931.80L977.50 931.41L978.00 931.00L978.50 930.49L979.00 929.79L979.50 928.93L980.00 927.90L980.50 926.72L981.00 925.39L981.50 923.93L982.00 922.35L982.50 920.65L983.00 918.85L983.50 916.96L984.00 914.98L984.50 912.92L985.00 910.69L985.50 908.07L986.00 905.06L986.50 901.67L987.00 897.93L987.50 893.82L988.00 889.38L988.50 884.60L989.00 879.50L989.50 873.56L990.00 866.40L990.50 858.27L991.00 849.39L991.50 840.00L992.00 829.30L992.50 817.16L993.00 804.76L993.50 792.66L994.00 780.16L994.50 770.00L995.00 762.76L995.50 756.82L996.00 752.00L996.50 747.50L997.00 743.26L997.50 740.27L998.00 739.45L998.50 741.15L999.00 744.70L999.50 749.36L1000.00 754.51L1000.50 762.39L1001.00 772.09L1001.50 780.80L1002.00 788.13L1002.50 795.23L1003.00 801.57L1003.50 806.64L1004.00 810.32L1004.50 813.68L1005.00 816.29L1005.50 817.56L1006.00 817.10L1006.50 815.28L1007.00 812.44L1007.50 808.95L1008.00 803.52L1008.50 794.05L1009.00 782.43L1009.50 770.68L1010.00 760.35L1010.50 749.62L1011.00 740.50L1011.50 734.91L1012.00 730.55L1012.50 728.70L1013.00 729.74L1013.50 732.42L1014.00 736.10L1014.50 741.85L1015.00 751.60L1015.50 763.07L1016.00 774.36L1016.50 787.23L1017.00 799.97L1017.50 809.90L1018.00 817.95L1018.50 824.35L1019.00 828.19L1019.50 831.04L1020.00 832.73L1020.50 832.77L1021.00 832.08L1021.50 830.93L1022.00 829.52L1022.50 828.03L1023.00 826.63L1023.50 825.18L1024.00 823.58L1024.50 821.86L1025.00 820.06L1025.50 818.21L1026.00 816.32L1026.50 814.44L1027.00 812.58L1027.50 810.78L1028.00 808.89L1028.50 806.94L1029.00 804.98L1029.50 803.04L1030.00 801.17L1030.50 799.44L1031.00 797.87L1031.50 796.44L1032.00 794.92L1032.50 793.46L1033.00 792.23L1033.50 791.42L1034.00 791.21L1034.50 791.52L1035.00 792.21L1035.50 793.22L1036.00 794.48L1036.50 795.90L1037.00 797.88L1037.50 801.12L1038.00 805.32L1038.50 810.12L1039.00 815.19L1039.50 820.20L1040.00 825.79L1040.50 832.04L1041.00 838.58L1041.50 845.02L1042.00 851.00L1042.50 856.42L1043.00 861.71L1043.50 866.81L1044.00 871.66L1044.50 876.17L1045.00 880.30L1045.50 884.22L1046.00 888.02L1046.50 891.62L1047.00 894.95L1047.50 897.96L1048.00 900.58L1048.50 902.80L1049.00 904.85L1049.50 906.75L1050.00 908.51L1050.50 910.14L1051.00 911.65L1051.50 913.04L1052.00 914.31L1052.50 915.48L1053.00 916.56L1053.50 917.58L1054.00 918.55L1054.50 919.47L1055.00 920.33L1055.50 921.15L1056.00 921.91L1056.50 922.63L1057.00 923.30L1057.50 923.92L1058.00 924.50L1058.50 925.04L1059.00 925.56L1059.50 926.06L1060.00 926.53L1060.50 926.98L1061.00 927.41L1061.50 927.82L1062.00 928.21L1062.50 928.58L1063.00 928.94L1063.50 929.29L1064.00 929.62L1064.50 929.94L1065.00 930.25L1065.50 930.56L1066.00 930.86L1066.50 931.16L1067.00 931.45L1067.50 931.72L1068.00 931.99L1068.50 932.24L1069.00 932.48L1069.50 932.70L1070.00 932.90L1070.50 933.08L1071.00 933.24L1071.50 933.38L1072.00 933.52L1072.50 933.65L1073.00 933.77L1073.50 933.89L1074.00 934.01L1074.50 934.11L1075.00 934.21L1075.50 934.30L1076.00 934.38L1076.50 934.45L1077.00 934.51L1077.50 934.56L1078.00 934.60L1078.50 934.63L1079.00 934.66L1079.50 934.69L1080.00 934.71L1080.50 934.74L1081.00 934.76L1081.50 934.79L1082.00 934.81L1082.50 934.83L1083.00 934.85L1083.50 934.87L1084.00 934.89L1084.50 934.91L1085.00 934.92L1085.50 934.94L1086.00 934.95L1086.50 934.96L1087.00 934.97L1087.50 934.98L1409.50 935.00" stroke="#348a7b" stroke-width="1.8" fill="none" stroke-linejoin="round"/>
<path d="M740.50 935.00L1061.50 934.98L1062.00 934.98L1062.50 934.97L1063.00 934.95L1063.50 934.94L1064.00 934.93L1064.50 934.91L1065.00 934.90L1065.50 934.88L1066.00 934.86L1066.50 934.84L1067.00 934.82L1067.50 934.80L1068.00 934.77L1068.50 934.75L1069.00 934.72L1069.50 934.70L1070.00 934.67L1070.50 934.64L1071.00 934.61L1071.50 934.58L1072.00 934.54L1072.50 934.48L1073.00 934.41L1073.50 934.34L1074.00 934.25L1074.50 934.15L1075.00 934.05L1075.50 933.94L1076.00 933.82L1076.50 933.70L1077.00 933.57L1077.50 933.44L1078.00 933.30L1078.50 933.15L1079.00 932.98L1079.50 932.78L1080.00 932.57L1080.50 932.34L1081.00 932.09L1081.50 931.83L1082.00 931.56L1082.50 931.27L1083.00 930.98L1083.50 930.68L1084.00 930.37L1084.50 930.06L1085.00 929.75L1085.50 929.42L1086.00 929.08L1086.50 928.73L1087.00 928.36L1087.50 927.97L1088.00 927.57L1088.50 927.15L1089.00 926.71L1089.50 926.25L1090.00 925.76L1090.50 925.25L1091.00 924.72L1091.50 924.16L1092.00 923.55L1092.50 922.90L1093.00 922.20L1093.50 921.46L1094.00 920.66L1094.50 919.82L1095.00 918.92L1095.50 917.98L1096.00 916.97L1096.50 915.92L1097.00 914.79L1097.50 913.56L1098.00 912.22L1098.50 910.76L1099.00 909.18L1099.50 907.47L1100.00 905.62L1100.50 903.64L1101.00 901.50L1101.50 899.06L1102.00 896.20L1102.50 892.99L1103.00 889.49L1103.50 885.76L1104.00 881.88L1104.50 877.87L1105.00 873.51L1105.50 868.78L1106.00 863.78L1106.50 858.55L1107.00 853.18L1107.50 847.49L1108.00 841.19L1108.50 834.65L1109.00 828.23L1109.50 822.34L1110.00 817.21L1110.50 812.13L1111.00 807.18L1111.50 802.70L1112.00 799.04L1112.50 796.53L1113.00 795.03L1113.50 793.70L1114.00 792.58L1114.50 791.75L1115.00 791.28L1115.50 791.26L1116.00 791.85L1116.50 792.93L1117.00 794.32L1117.50 795.84L1118.00 797.30L1118.50 798.79L1119.00 800.46L1119.50 802.28L1120.00 804.19L1120.50 806.16L1121.00 808.12L1121.50 810.03L1122.00 811.86L1122.50 813.69L1123.00 815.56L1123.50 817.45L1124.00 819.32L1124.50 821.15L1125.00 822.90L1125.50 824.55L1126.00 826.07L1126.50 827.45L1127.00 828.93L1127.50 830.39L1128.00 831.66L1128.50 832.56L1129.00 832.90L1129.50 831.90L1130.00 829.41L1130.50 826.18L1131.00 820.77L1131.50 813.24L1132.00 804.41L1132.50 792.50L1133.00 779.35L1133.50 767.62L1134.00 756.11L1134.50 745.39L1135.00 737.82L1135.50 733.81L1136.00 730.65L1136.50 728.88L1137.00 729.41L1137.50 732.98L1138.00 738.00L1138.50 745.61L1139.00 756.06L1139.50 766.39L1140.00 777.63L1140.50 789.54L1141.00 800.11L1141.50 807.33L1142.00 811.11L1142.50 814.25L1143.00 816.52L1143.50 817.57L1144.00 816.99L1144.50 814.84L1145.00 811.71L1145.50 808.20L1146.00 803.78L1146.50 797.88L1147.00 791.02L1147.50 783.73L1148.00 775.85L1148.50 766.21L1149.00 757.26L1149.50 751.37L1150.00 746.47L1150.50 742.39L1151.00 739.86L1151.50 739.63L1152.00 741.86L1152.50 745.72L1153.00 750.23L1153.50 754.77L1154.00 760.24L1154.50 766.94L1155.00 775.64L1155.50 787.57L1156.00 800.00L1156.50 812.16L1157.00 824.55L1157.50 835.97L1158.00 845.68L1158.50 854.80L1159.00 863.26L1159.50 870.83L1160.00 877.28L1160.50 882.60L1161.00 887.51L1161.50 892.09L1162.00 896.33L1162.50 900.22L1163.00 903.75L1163.50 906.91L1164.00 909.69L1164.50 912.07L1165.00 914.16L1165.50 916.17L1166.00 918.11L1166.50 919.95L1167.00 921.69L1167.50 923.32L1168.00 924.82L1168.50 926.20L1169.00 927.44L1169.50 928.53L1170.00 929.47L1170.50 930.23L1171.00 930.82L1171.50 931.25L1172.00 931.65L1172.50 932.03L1173.00 932.39L1173.50 932.72L1174.00 933.03L1174.50 933.31L1175.00 933.55L1175.50 933.76L1176.00 933.93L1176.50 934.06L1177.00 934.15L1177.50 934.20L1178.00 934.19L1178.50 934.14L1179.00 934.05L1179.50 933.92L1180.00 933.76L1180.50 933.57L1181.00 933.35L1181.50 933.11L1182.00 932.85L1182.50 932.53L1183.00 932.04L1183.50 931.39L1184.00 930.60L1184.50 929.69L1185.00 928.65L1185.50 927.52L1186.00 926.30L1186.50 925.00L1187.00 923.44L1187.50 921.44L1188.00 919.09L1188.50 916.44L1189.00 913.55L1189.50 910.48L1190.00 907.30L1190.50 904.07L1191.00 900.85L1191.50 897.29L1192.00 893.31L1192.50 889.06L1193.00 884.66L1193.50 880.25L1194.00 875.97L1194.50 871.95L1195.00 868.33L1195.50 865.18L1196.00 862.08L1196.50 859.05L1197.00 856.20L1197.50 853.68L1198.00 851.61L1198.50 850.12L1199.00 849.11L1199.50 848.17L1200.00 847.33L1200.50 846.62L1201.00 846.05L1201.50 845.67L1202.00 845.50L1202.50 845.58L1203.00 845.87L1203.50 846.34L1204.00 846.96L1204.50 847.68L1205.00 848.47L1205.50 849.38L1206.00 850.70L1206.50 852.39L1207.00 854.34L1207.50 856.47L1208.00 858.69L1208.50 860.90L1209.00 863.18L1209.50 865.63L1210.00 868.24L1210.50 870.97L1211.00 873.81L1211.50 876.71L1212.00 879.66L1212.50 882.63L1213.00 885.60L1213.50 888.75L1214.00 892.11L1214.50 895.59L1215.00 899.09L1215.50 902.53L1216.00 905.82L1216.50 908.85L1217.00 911.54L1217.50 913.89L1218.00 916.24L1218.50 918.58L1219.00 920.86L1219.50 923.05L1220.00 925.11L1220.50 926.98L1221.00 928.63L1221.50 930.02L1222.00 931.09L1222.50 931.82L1223.00 932.22L1223.50 932.55L1224.00 932.86L1224.50 933.13L1225.00 933.37L1225.50 933.59L1226.00 933.77L1226.50 933.93L1227.00 934.07L1227.50 934.18L1228.00 934.27L1228.50 934.34L1229.00 934.41L1229.50 934.46L1230.00 934.52L1230.50 934.57L1231.00 934.61L1231.50 934.65L1232.00 934.69L1232.50 934.72L1233.00 934.75L1233.50 934.77L1234.00 934.79L1234.50 934.81L1235.00 934.83L1235.50 934.84L1236.00 934.86L1236.50 934.87L1237.00 934.89L1237.50 934.90L1238.00 934.91L1238.50 934.93L1239.00 934.94L1239.50 934.95L1240.00 934.96L1240.50 934.97L1241.00 934.98L1241.50 934.98L1409.50 935.00" stroke="#e0306c" stroke-width="1.8" fill="none" stroke-linejoin="round"/>
<path d="M740.5 935L740.5 1276.25L1409.5 1276.25" stroke="#555555" stroke-width="1.5" fill="none"/>
<path d="M811.72 1276.25V1269.75" stroke="#555555" stroke-width="1.3"/>
<!--D_xt_rep 811.725 1303.000-->
<g transform="translate(810.029 1302.386) scale(1.0956 1.0708)"><text x="0" y="0" text-anchor="middle" font-size="18.4">-3</text></g>
<path d="M899.35 1276.25V1269.75" stroke="#555555" stroke-width="1.3"/>
<g transform="translate(897.654 1302.386) scale(1.0956 1.0708)"><text x="0" y="0" text-anchor="middle" font-size="18.4">-2</text></g>
<path d="M986.97 1276.25V1269.75" stroke="#555555" stroke-width="1.3"/>
<g transform="translate(985.279 1302.386) scale(1.0956 1.0708)"><text x="0" y="0" text-anchor="middle" font-size="18.4">-1</text></g>
<path d="M1074.6 1276.25V1269.75" stroke="#555555" stroke-width="1.3"/>
<g transform="translate(1072.904 1302.386) scale(1.0956 1.0708)"><text x="0" y="0" text-anchor="middle" font-size="18.4">0</text></g>
<path d="M1162.22 1276.25V1269.75" stroke="#555555" stroke-width="1.3"/>
<g transform="translate(1160.529 1302.386) scale(1.0956 1.0708)"><text x="0" y="0" text-anchor="middle" font-size="18.4">1</text></g>
<path d="M1249.85 1276.25V1269.75" stroke="#555555" stroke-width="1.3"/>
<g transform="translate(1248.154 1302.386) scale(1.0956 1.0708)"><text x="0" y="0" text-anchor="middle" font-size="18.4">2</text></g>
<path d="M1337.47 1276.25V1269.75" stroke="#555555" stroke-width="1.3"/>
<g transform="translate(1335.779 1302.386) scale(1.0956 1.0708)"><text x="0" y="0" text-anchor="middle" font-size="18.4">3</text></g>
<path d="M740.5 1276.25H747" stroke="#555555" stroke-width="1.3"/>
<g transform="translate(730.821 1283.055) scale(1.0429 1.0170)"><text x="0" y="0" text-anchor="end" font-size="18.4">0</text></g>
<path d="M740.5 1214.25H747" stroke="#555555" stroke-width="1.3"/>
<g transform="translate(730.821 1221.055) scale(1.0429 1.0170)"><text x="0" y="0" text-anchor="end" font-size="18.4">2</text></g>
<path d="M740.5 1152.25H747" stroke="#555555" stroke-width="1.3"/>
<g transform="translate(730.821 1159.055) scale(1.0429 1.0170)"><text x="0" y="0" text-anchor="end" font-size="18.4">4</text></g>
<path d="M740.5 1090.25H747" stroke="#555555" stroke-width="1.3"/>
<g transform="translate(730.821 1097.055) scale(1.0429 1.0170)"><text x="0" y="0" text-anchor="end" font-size="18.4">6</text></g>
<path d="M740.5 1028.25H747" stroke="#555555" stroke-width="1.3"/>
<g transform="translate(730.821 1035.055) scale(1.0429 1.0170)"><text x="0" y="0" text-anchor="end" font-size="18.4">8</text></g>
<path d="M740.5 966.25H747" stroke="#555555" stroke-width="1.3"/>
<!--D_yt_rep 731.500 972.837-->
<g transform="translate(730.821 973.055) scale(1.0429 1.0170)"><text x="0" y="0" text-anchor="end" font-size="18.4">10</text></g>
<path d="M1409.5 935V708.3" stroke="#555555" stroke-width="1.5" fill="none"/>
<g transform="translate(1415.923 942.091) scale(1.0766 1.0708)"><text x="0" y="0" text-anchor="start" font-size="18.4">0</text></g>
<path d="M1409.5 859.43H1403" stroke="#555555" stroke-width="1.3"/>
<g transform="translate(1415.923 866.524) scale(1.0766 1.0708)"><text x="0" y="0" text-anchor="start" font-size="18.4">0.05</text></g>
<path d="M1409.5 783.87H1403" stroke="#555555" stroke-width="1.3"/>
<g transform="translate(1415.923 790.958) scale(1.0766 1.0708)"><text x="0" y="0" text-anchor="start" font-size="18.4">0.1</text></g>
<path d="M1409.5 708.3H1403" stroke="#555555" stroke-width="1.3"/>
<!--D_kt_rep 1417.000 714.887-->
<g transform="translate(1415.923 715.391) scale(1.0766 1.0708)"><text x="0" y="0" text-anchor="start" font-size="18.4">0.15</text></g>
<!--D_ylab 699.135 1106.703--><g transform="translate(699.135 1106.703) scale(1.0171 1.0001)"><text transform="rotate(-90)" text-anchor="middle" font-size="20">Sample number</text></g>
<!--D_klab 1480.185 821.799--><g transform="translate(1480.185 821.799) scale(1.0381 1.0039)"><text transform="rotate(-90)" text-anchor="middle" font-size="20">KDE (mccv)</text></g>
<!--D_xlab 1014.795 1328.776--><g transform="translate(1014.795 1328.776) scale(1.0171 0.9363)"><text x="0" y="0" font-size="20">T<tspan dx="1.6" dy="10" font-size="16" letter-spacing="1.2">pred</tspan><tspan dx="2" dy="-10"> (mccv)</tspan></text></g>
<circle cx="1012.5" cy="966.25" r="5.5" fill="none" stroke="#348a7b" stroke-width="1.8"/>
<circle cx="1005.75" cy="997.25" r="5.5" fill="none" stroke="#348a7b" stroke-width="1.8"/>
<circle cx="940.5" cy="1028.25" r="5.5" fill="none" stroke="#348a7b" stroke-width="1.8"/>
<circle cx="951.5" cy="1059.25" r="5.5" fill="none" stroke="#348a7b" stroke-width="1.8"/>
<circle cx="1042" cy="1090.25" r="5.5" fill="none" stroke="#348a7b" stroke-width="1.8"/>
<circle cx="1031.5" cy="1121.25" r="5.5" fill="none" stroke="#348a7b" stroke-width="1.8"/>
<circle cx="997.5" cy="1152.25" r="5.5" fill="none" stroke="#348a7b" stroke-width="1.8"/>
<circle cx="1020.75" cy="1183.25" r="5.5" fill="none" stroke="#348a7b" stroke-width="1.8"/>
<circle cx="1035" cy="1214.25" r="5.5" fill="none" stroke="#348a7b" stroke-width="1.8"/>
<circle cx="995" cy="1245.25" r="5.5" fill="none" stroke="#348a7b" stroke-width="1.8"/>
<path d="M1133.35 962.9L1140.05 969.6M1133.35 969.6L1140.05 962.9" stroke="#e0306c" stroke-width="2.0" stroke-linecap="round" fill="none"/>
<path d="M1140.1 993.9L1146.8 1000.6M1140.1 1000.6L1146.8 993.9" stroke="#e0306c" stroke-width="2.0" stroke-linecap="round" fill="none"/>
<path d="M1205.35 1024.9L1212.05 1031.6M1205.35 1031.6L1212.05 1024.9" stroke="#e0306c" stroke-width="2.0" stroke-linecap="round" fill="none"/>
<path d="M1194.35 1055.9L1201.05 1062.6M1194.35 1062.6L1201.05 1055.9" stroke="#e0306c" stroke-width="2.0" stroke-linecap="round" fill="none"/>
<path d="M1103.85 1086.9L1110.55 1093.6M1103.85 1093.6L1110.55 1086.9" stroke="#e0306c" stroke-width="2.0" stroke-linecap="round" fill="none"/>
<path d="M1114.35 1117.9L1121.05 1124.6M1114.35 1124.6L1121.05 1117.9" stroke="#e0306c" stroke-width="2.0" stroke-linecap="round" fill="none"/>
<path d="M1148.35 1148.9L1155.05 1155.6M1148.35 1155.6L1155.05 1148.9" stroke="#e0306c" stroke-width="2.0" stroke-linecap="round" fill="none"/>
<path d="M1125.1 1179.9L1131.8 1186.6M1125.1 1186.6L1131.8 1179.9" stroke="#e0306c" stroke-width="2.0" stroke-linecap="round" fill="none"/>
<path d="M1110.85 1210.9L1117.55 1217.6M1110.85 1217.6L1117.55 1210.9" stroke="#e0306c" stroke-width="2.0" stroke-linecap="round" fill="none"/>
<path d="M1150.85 1241.9L1157.55 1248.6M1150.85 1248.6L1157.55 1241.9" stroke="#e0306c" stroke-width="2.0" stroke-linecap="round" fill="none"/>
<!--D_letter 795.581 738.172--><g transform="translate(795.581 738.172) scale(0.9270 0.9795)"><text x="0" y="0" font-size="51" font-weight="bold" stroke="#000" stroke-width="1.6" stroke-linejoin="round">D</text></g>
<g transform="translate(973.36 687.8) scale(1.0313 0.9882)"><text x="0" y="0" font-size="24.0" font-weight="bold" stroke="#000" stroke-width="0.35">R<tspan font-size="18.24" dy="-10.32">2</tspan><tspan font-size="18.24" dx="-10.14" dy="21.12">Y</tspan><tspan dy="-10.8">: 0.97, Q</tspan><tspan font-size="18.24" dy="-10.32">2</tspan><tspan font-size="18.24" dx="-10.14" dy="21.12">Y</tspan><tspan dy="-10.8">: 0.88</tspan></text></g>
<path d="M56.25 1643.8H693.75" stroke="#555555" stroke-width="1.3" fill="none"/>
<path d="M56.25 1643.80L202.75 1643.80L203.25 1643.77L203.75 1643.75L204.25 1643.72L204.75 1643.69L205.25 1643.66L205.75 1643.63L206.25 1643.59L206.75 1643.56L207.25 1643.52L207.75 1643.48L208.25 1643.44L208.75 1643.39L209.25 1643.34L209.75 1643.29L210.25 1643.24L210.75 1643.18L211.25 1643.11L211.75 1643.03L212.25 1642.94L212.75 1642.84L213.25 1642.74L213.75 1642.62L214.25 1642.50L214.75 1642.37L215.25 1642.23L215.75 1642.08L216.25 1641.92L216.75 1641.75L217.25 1641.54L217.75 1641.29L218.25 1641.01L218.75 1640.68L219.25 1640.32L219.75 1639.93L220.25 1639.51L220.75 1639.06L221.25 1638.58L221.75 1638.08L222.25 1637.56L222.75 1637.00L223.25 1636.36L223.75 1635.63L224.25 1634.82L224.75 1633.95L225.25 1633.02L225.75 1632.03L226.25 1631.00L226.75 1629.92L227.25 1628.81L227.75 1627.64L228.25 1626.35L228.75 1624.95L229.25 1623.47L229.75 1621.90L230.25 1620.26L230.75 1618.57L231.25 1616.82L231.75 1615.00L232.25 1613.07L232.75 1611.05L233.25 1608.94L233.75 1606.74L234.25 1604.45L234.75 1602.09L235.25 1599.66L235.75 1597.04L236.25 1594.26L236.75 1591.34L237.25 1588.36L237.75 1585.34L238.25 1582.35L238.75 1579.42L239.25 1576.59L239.75 1573.74L240.25 1570.89L240.75 1568.05L241.25 1565.24L241.75 1562.49L242.25 1559.82L242.75 1557.25L243.25 1554.74L243.75 1552.15L244.25 1549.55L244.75 1547.02L245.25 1544.63L245.75 1542.47L246.25 1540.61L246.75 1539.12L247.25 1537.91L247.75 1536.71L248.25 1535.56L248.75 1534.46L249.25 1533.43L249.75 1532.49L250.25 1531.66L250.75 1530.96L251.25 1530.39L251.75 1529.98L252.25 1529.75L252.75 1529.71L253.25 1529.80L253.75 1530.01L254.25 1530.31L254.75 1530.69L255.25 1531.15L255.75 1531.67L256.25 1532.24L256.75 1532.85L257.25 1533.48L257.75 1534.13L258.25 1534.78L258.75 1535.44L259.25 1536.23L259.75 1537.14L260.25 1538.15L260.75 1539.23L261.25 1540.35L261.75 1541.48L262.25 1542.61L262.75 1543.69L263.25 1544.70L263.75 1545.65L264.25 1546.58L264.75 1547.49L265.25 1548.38L265.75 1549.26L266.25 1550.15L266.75 1551.03L267.25 1551.93L267.75 1552.83L268.25 1553.76L268.75 1554.72L269.25 1555.70L269.75 1556.70L270.25 1557.71L270.75 1558.73L271.25 1559.77L271.75 1560.83L272.25 1561.92L272.75 1563.05L273.25 1564.21L273.75 1565.42L274.25 1566.68L274.75 1568.00L275.25 1569.38L275.75 1570.82L276.25 1572.32L276.75 1573.88L277.25 1575.48L277.75 1577.15L278.25 1578.88L278.75 1580.77L279.25 1582.80L279.75 1584.92L280.25 1587.09L280.75 1589.28L281.25 1591.44L281.75 1593.52L282.25 1595.50L282.75 1597.33L283.25 1599.05L283.75 1600.75L284.25 1602.42L284.75 1604.03L285.25 1605.55L285.75 1606.95L286.25 1608.21L286.75 1609.30L287.25 1610.36L287.75 1611.43L288.25 1612.43L288.75 1613.32L289.25 1614.00L289.75 1614.41L290.25 1614.49L290.75 1614.29L291.25 1613.88L291.75 1613.28L292.25 1612.53L292.75 1611.66L293.25 1610.71L293.75 1609.71L294.25 1608.62L294.75 1607.11L295.25 1605.19L295.75 1602.97L296.25 1600.57L296.75 1598.09L297.25 1595.62L297.75 1593.28L298.25 1591.17L298.75 1589.25L299.25 1587.22L299.75 1585.22L300.25 1583.40L300.75 1581.92L301.25 1580.96L301.75 1580.39L302.25 1579.88L302.75 1579.45L303.25 1579.13L303.75 1578.94L304.25 1578.92L304.75 1579.29L305.25 1580.03L305.75 1581.05L306.25 1582.27L306.75 1583.60L307.25 1584.93L307.75 1586.50L308.25 1588.42L308.75 1590.62L309.25 1593.02L309.75 1595.54L310.25 1598.09L310.75 1600.61L311.25 1603.02L311.75 1605.53L312.25 1608.17L312.75 1610.86L313.25 1613.54L313.75 1616.13L314.25 1618.57L314.75 1620.79L315.25 1622.80L315.75 1624.91L316.25 1627.04L316.75 1629.03L317.25 1630.72L317.75 1631.96L318.25 1632.56L318.75 1632.46L319.25 1631.81L319.75 1630.67L320.25 1629.07L320.75 1627.08L321.25 1624.74L321.75 1622.08L322.25 1617.31L322.75 1608.76L323.25 1598.08L323.75 1586.97L324.25 1577.10L324.75 1567.56L325.25 1557.64L325.75 1548.13L326.25 1539.84L326.75 1533.57L327.25 1528.29L327.75 1523.23L328.25 1518.77L328.75 1515.29L329.25 1513.17L329.75 1512.79L330.25 1514.26L330.75 1517.24L331.25 1521.35L331.75 1526.22L332.25 1531.46L332.75 1537.05L333.25 1544.62L333.75 1553.74L334.25 1563.59L334.75 1573.38L335.25 1582.68L335.75 1592.86L336.25 1603.22L336.75 1612.67L337.25 1620.12L337.75 1625.33L338.25 1630.12L338.75 1634.40L339.25 1637.94L339.75 1640.53L340.25 1641.93L340.75 1642.51L341.25 1642.99L341.75 1643.37L342.25 1643.66L342.75 1643.80L424.75 1643.80L425.25 1643.64L425.75 1643.27L426.25 1642.58L426.75 1641.35L427.25 1639.24L427.75 1635.80L428.25 1630.50L428.75 1622.69L429.25 1611.71L429.75 1597.00L430.25 1578.35L430.75 1556.12L431.25 1531.22L431.75 1505.17L432.25 1480.04L432.75 1458.08L433.25 1441.62L433.75 1433.72L434.25 1433.72L434.75 1441.62L435.25 1458.08L435.75 1480.04L436.25 1505.17L436.75 1531.22L437.25 1556.12L437.75 1578.35L438.25 1597.00L438.75 1611.71L439.25 1622.69L439.75 1630.50L440.25 1635.80L440.75 1639.24L441.25 1641.35L441.75 1642.58L442.25 1643.27L442.75 1643.64L443.25 1643.80L693.75 1643.80" stroke="#348a7b" stroke-width="1.8" fill="none" stroke-linejoin="round"/>
<path d="M56.25 1643.80L305.75 1643.80L306.25 1643.69L306.75 1643.36L307.25 1642.75L307.75 1641.65L308.25 1639.74L308.75 1636.62L309.25 1631.76L309.75 1624.51L310.25 1614.18L310.75 1600.20L311.25 1582.36L311.75 1560.85L312.25 1536.41L312.75 1510.41L313.25 1484.80L313.75 1461.96L314.25 1444.34L314.75 1434.90L315.25 1432.85L315.75 1439.45L316.25 1454.48L316.75 1475.29L317.25 1499.93L317.75 1525.99L318.25 1551.32L318.75 1574.23L319.25 1593.61L319.75 1609.05L320.25 1620.74L320.75 1629.15L321.25 1634.93L321.75 1638.69L322.25 1641.01L322.75 1642.38L323.25 1643.16L323.75 1643.58L324.25 1643.80L406.25 1643.80L406.75 1643.70L407.25 1643.44L407.75 1643.07L408.25 1642.61L408.75 1642.06L409.25 1640.91L409.75 1638.54L410.25 1635.17L410.75 1631.02L411.25 1626.32L411.75 1621.27L412.25 1614.35L412.75 1605.21L413.25 1594.95L413.75 1584.65L414.25 1575.26L414.75 1565.58L415.25 1555.67L415.75 1546.35L416.25 1538.40L416.75 1532.52L417.25 1527.25L417.75 1522.28L418.25 1517.98L418.75 1514.74L419.25 1512.94L419.75 1512.94L420.25 1514.74L420.75 1517.98L421.25 1522.28L421.75 1527.25L422.25 1532.52L422.75 1538.40L423.25 1546.35L423.75 1555.67L424.25 1565.58L424.75 1575.26L425.25 1584.85L425.75 1595.84L426.25 1606.74L426.75 1615.85L427.25 1621.49L427.75 1624.23L428.25 1626.64L428.75 1628.71L429.25 1630.38L429.75 1631.62L430.25 1632.37L430.75 1632.60L431.25 1632.13L431.75 1631.01L432.25 1629.40L432.75 1627.45L433.25 1625.34L433.75 1623.21L434.25 1621.21L434.75 1619.04L435.25 1616.63L435.75 1614.06L436.25 1611.40L436.75 1608.70L437.25 1606.05L437.75 1603.51L438.25 1601.10L438.75 1598.60L439.25 1596.05L439.75 1593.52L440.25 1591.09L440.75 1588.84L441.25 1586.86L441.75 1585.21L442.25 1583.87L442.75 1582.53L443.25 1581.29L443.75 1580.21L444.25 1579.41L444.75 1578.96L445.25 1578.92L445.75 1579.08L446.25 1579.38L446.75 1579.79L447.25 1580.28L447.75 1580.84L448.25 1581.69L448.75 1583.07L449.25 1584.83L449.75 1586.81L450.25 1588.85L450.75 1590.79L451.25 1592.84L451.75 1595.14L452.25 1597.59L452.75 1600.08L453.25 1602.51L453.75 1604.76L454.25 1606.75L454.75 1608.36L455.25 1609.51L455.75 1610.51L456.25 1611.47L456.75 1612.36L457.25 1613.14L457.75 1613.77L458.25 1614.22L458.75 1614.47L459.25 1614.45L459.75 1614.10L460.25 1613.47L460.75 1612.62L461.25 1611.63L461.75 1610.57L462.25 1609.51L462.75 1608.44L463.25 1607.21L463.75 1605.84L464.25 1604.34L464.75 1602.75L465.25 1601.09L465.75 1599.39L466.25 1597.67L466.75 1595.88L467.25 1593.93L467.75 1591.86L468.25 1589.71L468.75 1587.53L469.25 1585.35L469.75 1583.22L470.25 1581.17L470.75 1579.25L471.25 1577.49L471.75 1575.81L472.25 1574.19L472.75 1572.63L473.25 1571.12L473.75 1569.67L474.25 1568.28L474.75 1566.94L475.25 1565.67L475.75 1564.45L476.25 1563.28L476.75 1562.14L477.25 1561.05L477.75 1559.98L478.25 1558.94L478.75 1557.91L479.25 1556.90L479.75 1555.90L480.25 1554.91L480.75 1553.95L481.25 1553.02L481.75 1552.11L482.25 1551.21L482.75 1550.32L483.25 1549.44L483.75 1548.56L484.25 1547.67L484.75 1546.76L485.25 1545.84L485.75 1544.90L486.25 1543.90L486.75 1542.83L487.25 1541.71L487.75 1540.58L488.25 1539.45L488.75 1538.36L489.25 1537.34L489.75 1536.40L490.25 1535.59L490.75 1534.91L491.25 1534.26L491.75 1533.61L492.25 1532.98L492.75 1532.36L493.25 1531.78L493.75 1531.25L494.25 1530.78L494.75 1530.38L495.25 1530.06L495.75 1529.83L496.25 1529.72L496.75 1529.73L497.25 1529.92L497.75 1530.29L498.25 1530.83L498.75 1531.51L499.25 1532.32L499.75 1533.24L500.25 1534.25L500.75 1535.33L501.25 1536.48L501.75 1537.67L502.25 1538.88L502.75 1540.28L503.25 1542.07L503.75 1544.18L504.25 1546.53L504.75 1549.04L505.25 1551.63L505.75 1554.22L506.25 1556.75L506.75 1559.30L507.25 1561.95L507.75 1564.68L508.25 1567.48L508.75 1570.32L509.25 1573.17L509.75 1576.02L510.25 1578.85L510.75 1581.76L511.25 1584.74L511.75 1587.76L512.25 1590.75L512.75 1593.68L513.25 1596.50L513.75 1599.15L514.25 1601.61L514.75 1603.99L515.25 1606.29L515.75 1608.50L516.25 1610.64L516.75 1612.68L517.25 1614.62L517.75 1616.47L518.25 1618.22L518.75 1619.93L519.25 1621.58L519.75 1623.16L520.25 1624.66L520.75 1626.08L521.25 1627.39L521.75 1628.59L522.25 1629.70L522.75 1630.79L523.25 1631.83L523.75 1632.83L524.25 1633.77L524.75 1634.66L525.25 1635.47L525.75 1636.22L526.25 1636.88L526.75 1637.45L527.25 1637.98L527.75 1638.48L528.25 1638.97L528.75 1639.42L529.25 1639.85L529.75 1640.25L530.25 1640.61L530.75 1640.94L531.25 1641.24L531.75 1641.49L532.25 1641.71L532.75 1641.88L533.25 1642.05L533.75 1642.20L534.25 1642.34L534.75 1642.48L535.25 1642.60L535.75 1642.72L536.25 1642.82L536.75 1642.92L537.25 1643.01L537.75 1643.09L538.25 1643.16L538.75 1643.23L539.25 1643.28L539.75 1643.33L540.25 1643.38L540.75 1643.43L541.25 1643.47L541.75 1643.51L542.25 1643.55L542.75 1643.59L543.25 1643.62L543.75 1643.65L544.25 1643.69L544.75 1643.72L545.25 1643.74L545.75 1643.77L546.25 1643.79L693.75 1643.80" stroke="#000000" stroke-width="1.8" fill="none" stroke-linejoin="round"/>
<path d="M56.25 1643.75L56.25 1986.75L693.75 1986.75" stroke="#555555" stroke-width="1.5" fill="none"/>
<path d="M125.43 1986.75V1980.25" stroke="#555555" stroke-width="1.3"/>
<!--E_xt_rep 125.430 2012.000-->
<g transform="translate(125.064 2011.776) scale(1.0929 1.0433)"><text x="0" y="0" text-anchor="middle" font-size="16.5">-1.5</text></g>
<path d="M208.47 1986.75V1980.25" stroke="#555555" stroke-width="1.3"/>
<g transform="translate(208.104 2011.776) scale(1.0929 1.0433)"><text x="0" y="0" text-anchor="middle" font-size="16.5">-1</text></g>
<path d="M291.51 1986.75V1980.25" stroke="#555555" stroke-width="1.3"/>
<g transform="translate(291.144 2011.776) scale(1.0929 1.0433)"><text x="0" y="0" text-anchor="middle" font-size="16.5">-0.5</text></g>
<path d="M374.55 1986.75V1980.25" stroke="#555555" stroke-width="1.3"/>
<g transform="translate(374.184 2011.776) scale(1.0929 1.0433)"><text x="0" y="0" text-anchor="middle" font-size="16.5">0</text></g>
<path d="M457.59 1986.75V1980.25" stroke="#555555" stroke-width="1.3"/>
<g transform="translate(457.224 2011.776) scale(1.0929 1.0433)"><text x="0" y="0" text-anchor="middle" font-size="16.5">0.5</text></g>
<path d="M540.63 1986.75V1980.25" stroke="#555555" stroke-width="1.3"/>
<g transform="translate(540.264 2011.776) scale(1.0929 1.0433)"><text x="0" y="0" text-anchor="middle" font-size="16.5">1</text></g>
<path d="M623.67 1986.75V1980.25" stroke="#555555" stroke-width="1.3"/>
<g transform="translate(623.304 2011.776) scale(1.0929 1.0433)"><text x="0" y="0" text-anchor="middle" font-size="16.5">1.5</text></g>
<path d="M56.25 1952.69H62.75" stroke="#555555" stroke-width="1.3"/>
<g transform="translate(47.106 1958.789) scale(1.1025 1.0185)"><text x="0" y="0" text-anchor="end" font-size="16.5">2</text></g>
<path d="M56.25 1884.57H62.75" stroke="#555555" stroke-width="1.3"/>
<g transform="translate(47.106 1890.669) scale(1.1025 1.0185)"><text x="0" y="0" text-anchor="end" font-size="16.5">4</text></g>
<path d="M56.25 1816.45H62.75" stroke="#555555" stroke-width="1.3"/>
<g transform="translate(47.106 1822.549) scale(1.1025 1.0185)"><text x="0" y="0" text-anchor="end" font-size="16.5">6</text></g>
<path d="M56.25 1748.33H62.75" stroke="#555555" stroke-width="1.3"/>
<g transform="translate(47.106 1754.429) scale(1.1025 1.0185)"><text x="0" y="0" text-anchor="end" font-size="16.5">8</text></g>
<path d="M56.25 1680.21H62.75" stroke="#555555" stroke-width="1.3"/>
<!--E_yt_rep 47.250 1686.117-->
<g transform="translate(47.106 1686.309) scale(1.1025 1.0185)"><text x="0" y="0" text-anchor="end" font-size="16.5">10</text></g>
<path d="M693.75 1643.8V1418.7" stroke="#555555" stroke-width="1.5" fill="none"/>
<g transform="translate(699.534 1650.535) scale(0.9960 1.0433)"><text x="0" y="0" text-anchor="start" font-size="16.5">0</text></g>
<path d="M693.75 1606.32H687.25" stroke="#555555" stroke-width="1.3"/>
<g transform="translate(699.534 1613.055) scale(0.9960 1.0433)"><text x="0" y="0" text-anchor="start" font-size="16.5">0.02</text></g>
<path d="M693.75 1568.84H687.25" stroke="#555555" stroke-width="1.3"/>
<g transform="translate(699.534 1575.575) scale(0.9960 1.0433)"><text x="0" y="0" text-anchor="start" font-size="16.5">0.04</text></g>
<path d="M693.75 1531.36H687.25" stroke="#555555" stroke-width="1.3"/>
<g transform="translate(699.534 1538.095) scale(0.9960 1.0433)"><text x="0" y="0" text-anchor="start" font-size="16.5">0.06</text></g>
<path d="M693.75 1493.88H687.25" stroke="#555555" stroke-width="1.3"/>
<g transform="translate(699.534 1500.615) scale(0.9960 1.0433)"><text x="0" y="0" text-anchor="start" font-size="16.5">0.08</text></g>
<path d="M693.75 1456.4H687.25" stroke="#555555" stroke-width="1.3"/>
<!--E_kt_rep 700.750 1462.307-->
<g transform="translate(699.534 1463.135) scale(0.9960 1.0433)"><text x="0" y="0" text-anchor="start" font-size="16.5">0.1</text></g>
<!--E_ylab 18.264 1818.203--><g transform="translate(18.264 1818.203) scale(1.0159 1.0078)"><text transform="rotate(-90)" text-anchor="middle" font-size="18.7">Sample number</text></g>
<!--E_klab 759.942 1531.501--><g transform="translate(759.942 1531.501) scale(1.0304 1.0166)"><text transform="rotate(-90)" text-anchor="middle" font-size="18.7">KDE (mccv)</text></g>
<!--E_xlab 317.940 2034.460--><g transform="translate(317.940 2034.460) scale(1.0240 0.9456)"><text x="0" y="0" font-size="18.7">T<tspan dx="1.5" dy="9.35" font-size="14.96" letter-spacing="1.12">pred</tspan><tspan dx="1.87" dy="-9.35"> (mccv)</tspan></text></g>
<circle cx="247" cy="1680.21" r="5.5" fill="none" stroke="#348a7b" stroke-width="1.8"/>
<circle cx="265.75" cy="1714.27" r="5.5" fill="none" stroke="#348a7b" stroke-width="1.8"/>
<circle cx="434" cy="1748.33" r="5.5" fill="none" stroke="#348a7b" stroke-width="1.8"/>
<circle cx="329.5" cy="1850.51" r="5.5" fill="none" stroke="#348a7b" stroke-width="1.8"/>
<circle cx="271.75" cy="1884.57" r="5.5" fill="none" stroke="#348a7b" stroke-width="1.8"/>
<circle cx="249" cy="1918.63" r="5.5" fill="none" stroke="#348a7b" stroke-width="1.8"/>
<circle cx="304" cy="1952.69" r="5.5" fill="none" stroke="#348a7b" stroke-width="1.8"/>
<path d="M498.75 1676.86L505.45 1683.56M498.75 1683.56L505.45 1676.86" stroke="#000000" stroke-width="2.0" stroke-linecap="round" fill="none"/>
<path d="M480 1710.92L486.7 1717.62M480 1717.62L486.7 1710.92" stroke="#000000" stroke-width="2.0" stroke-linecap="round" fill="none"/>
<path d="M311.75 1744.98L318.45 1751.68M311.75 1751.68L318.45 1744.98" stroke="#000000" stroke-width="2.0" stroke-linecap="round" fill="none"/>
<path d="M416.25 1847.16L422.95 1853.86M416.25 1853.86L422.95 1847.16" stroke="#000000" stroke-width="2.0" stroke-linecap="round" fill="none"/>
<path d="M474 1881.22L480.7 1887.92M474 1887.92L480.7 1881.22" stroke="#000000" stroke-width="2.0" stroke-linecap="round" fill="none"/>
<path d="M496.75 1915.28L503.45 1921.98M496.75 1921.98L503.45 1915.28" stroke="#000000" stroke-width="2.0" stroke-linecap="round" fill="none"/>
<path d="M441.75 1949.34L448.45 1956.04M441.75 1956.04L448.45 1949.34" stroke="#000000" stroke-width="2.0" stroke-linecap="round" fill="none"/>
<!--E_letter 82.091 1424.796--><g transform="translate(82.091 1424.796) scale(0.7606 0.9650)"><text x="0" y="0" font-size="51" font-weight="bold" stroke="#000" stroke-width="1.6" stroke-linejoin="round">E</text></g>
<g transform="translate(279.25 1400.38) scale(0.9701 0.9059)"><text x="0" y="0" font-size="24.0" font-weight="bold" stroke="#000" stroke-width="0.35">R<tspan font-size="18.24" dy="-10.32">2</tspan><tspan font-size="18.24" dx="-10.14" dy="21.12">Y</tspan><tspan dy="-10.8">: 0.99, Q</tspan><tspan font-size="18.24" dy="-10.32">2</tspan><tspan font-size="18.24" dx="-10.14" dy="21.12">Y</tspan><tspan dy="-10.8">: 0.57</tspan></text></g>
<path d="M755.5 1647.6H1395.5" stroke="#555555" stroke-width="1.3" fill="none"/>
<path d="M755.50 1647.60L918.50 1647.60L919.00 1647.54L919.50 1647.47L920.00 1647.39L920.50 1647.31L921.00 1647.23L921.50 1647.15L922.00 1647.05L922.50 1646.94L923.00 1646.82L923.50 1646.69L924.00 1646.54L924.50 1646.38L925.00 1646.21L925.50 1646.02L926.00 1645.82L926.50 1645.61L927.00 1645.39L927.50 1645.15L928.00 1644.87L928.50 1644.54L929.00 1644.17L929.50 1643.75L930.00 1643.29L930.50 1642.80L931.00 1642.29L931.50 1641.75L932.00 1641.19L932.50 1640.62L933.00 1640.01L933.50 1639.34L934.00 1638.61L934.50 1637.83L935.00 1637.00L935.50 1636.14L936.00 1635.26L936.50 1634.36L937.00 1633.46L937.50 1632.56L938.00 1631.65L938.50 1630.66L939.00 1629.62L939.50 1628.53L940.00 1627.43L940.50 1626.34L941.00 1625.27L941.50 1624.26L942.00 1623.32L942.50 1622.49L943.00 1621.76L943.50 1621.06L944.00 1620.34L944.50 1619.64L945.00 1618.98L945.50 1618.39L946.00 1617.90L946.50 1617.54L947.00 1617.34L947.50 1617.31L948.00 1617.44L948.50 1617.69L949.00 1618.05L949.50 1618.49L950.00 1618.99L950.50 1619.54L951.00 1620.11L951.50 1620.68L952.00 1621.25L952.50 1621.93L953.00 1622.70L953.50 1623.55L954.00 1624.45L954.50 1625.40L955.00 1626.38L955.50 1627.36L956.00 1628.34L956.50 1629.29L957.00 1630.31L957.50 1631.41L958.00 1632.57L958.50 1633.75L959.00 1634.92L959.50 1636.05L960.00 1637.11L960.50 1638.05L961.00 1638.86L961.50 1639.50L962.00 1640.04L962.50 1640.57L963.00 1641.09L963.50 1641.59L964.00 1642.06L964.50 1642.50L965.00 1642.90L965.50 1643.25L966.00 1643.55L966.50 1643.79L967.00 1643.97L967.50 1644.07L968.00 1644.10L968.50 1644.01L969.00 1643.82L969.50 1643.51L970.00 1643.12L970.50 1642.64L971.00 1642.09L971.50 1641.48L972.00 1640.81L972.50 1640.09L973.00 1639.34L973.50 1638.28L974.00 1636.84L974.50 1635.09L975.00 1633.09L975.50 1630.91L976.00 1628.63L976.50 1626.30L977.00 1624.00L977.50 1621.60L978.00 1618.98L978.50 1616.18L979.00 1613.26L979.50 1610.26L980.00 1607.24L980.50 1604.24L981.00 1601.33L981.50 1598.47L982.00 1595.40L982.50 1592.20L983.00 1589.00L983.50 1585.91L984.00 1583.04L984.50 1580.52L985.00 1578.46L985.50 1576.93L986.00 1575.53L986.50 1574.19L987.00 1572.94L987.50 1571.83L988.00 1570.92L988.50 1570.23L989.00 1569.81L989.50 1569.71L990.00 1569.91L990.50 1570.37L991.00 1571.07L991.50 1571.99L992.00 1573.08L992.50 1574.34L993.00 1575.71L993.50 1577.19L994.00 1579.11L994.50 1582.05L995.00 1585.81L995.50 1590.17L996.00 1594.89L996.50 1599.74L997.00 1604.48L997.50 1609.43L998.00 1615.10L998.50 1620.67L999.00 1625.27L999.50 1628.72L1000.00 1631.94L1000.50 1634.88L1001.00 1637.44L1001.50 1639.53L1002.00 1641.07L1002.50 1642.06L1003.00 1642.94L1003.50 1643.75L1004.00 1644.48L1004.50 1645.14L1005.00 1645.71L1005.50 1646.20L1006.00 1646.60L1006.50 1646.90L1007.00 1647.11L1007.50 1647.21L1008.00 1647.28L1008.50 1647.35L1009.00 1647.41L1009.50 1647.47L1010.00 1647.52L1010.50 1647.57L1011.00 1647.60L1023.50 1647.60L1024.00 1647.57L1024.50 1647.53L1025.00 1647.50L1025.50 1647.46L1026.00 1647.41L1026.50 1647.37L1027.00 1647.32L1027.50 1647.27L1028.00 1647.21L1028.50 1647.04L1029.00 1646.55L1029.50 1645.77L1030.00 1644.74L1030.50 1643.50L1031.00 1642.10L1031.50 1640.35L1032.00 1637.50L1032.50 1633.67L1033.00 1629.11L1033.50 1624.06L1034.00 1618.60L1034.50 1611.62L1035.00 1603.47L1035.50 1594.91L1036.00 1586.60L1036.50 1578.12L1037.00 1569.42L1037.50 1560.65L1038.00 1551.98L1038.50 1543.56L1039.00 1535.19L1039.50 1526.60L1040.00 1517.50L1040.50 1507.28L1041.00 1496.47L1041.50 1486.50L1042.00 1477.11L1042.50 1468.23L1043.00 1461.60L1043.50 1457.48L1044.00 1454.35L1044.50 1453.46L1045.00 1455.21L1045.50 1458.88L1046.00 1465.89L1046.50 1480.52L1047.00 1495.65L1047.50 1511.74L1048.00 1525.91L1048.50 1538.73L1049.00 1545.22L1049.50 1548.84L1050.00 1551.49L1050.50 1553.56L1051.00 1555.42L1051.50 1556.88L1052.00 1558.07L1052.50 1559.23L1053.00 1560.60L1053.50 1562.42L1054.00 1565.00L1054.50 1568.24L1055.00 1571.90L1055.50 1575.74L1056.00 1579.50L1056.50 1583.32L1057.00 1587.37L1057.50 1591.51L1058.00 1595.59L1058.50 1599.46L1059.00 1603.10L1059.50 1606.67L1060.00 1610.16L1060.50 1613.52L1061.00 1616.73L1061.50 1619.75L1062.00 1622.61L1062.50 1625.50L1063.00 1628.35L1063.50 1631.08L1064.00 1633.58L1064.50 1635.77L1065.00 1637.56L1065.50 1638.89L1066.00 1640.08L1066.50 1641.20L1067.00 1642.25L1067.50 1643.21L1068.00 1644.08L1068.50 1644.85L1069.00 1645.51L1069.50 1646.04L1070.00 1646.44L1070.50 1646.70L1071.00 1646.88L1071.50 1647.04L1072.00 1647.19L1072.50 1647.32L1073.00 1647.43L1073.50 1647.54L1074.00 1647.60L1395.50 1647.60" stroke="#348a7b" stroke-width="1.8" fill="none" stroke-linejoin="round"/>
<path d="M755.50 1647.60L1076.50 1647.60L1077.00 1647.55L1077.50 1647.46L1078.00 1647.34L1078.50 1647.22L1079.00 1647.07L1079.50 1646.91L1080.00 1646.74L1080.50 1646.50L1081.00 1646.13L1081.50 1645.62L1082.00 1644.99L1082.50 1644.25L1083.00 1643.40L1083.50 1642.45L1084.00 1641.42L1084.50 1640.31L1085.00 1639.13L1085.50 1637.86L1086.00 1636.17L1086.50 1634.05L1087.00 1631.60L1087.50 1628.91L1088.00 1626.08L1088.50 1623.19L1089.00 1620.33L1089.50 1617.35L1090.00 1614.18L1090.50 1610.84L1091.00 1607.38L1091.50 1603.82L1092.00 1600.20L1092.50 1596.39L1093.00 1592.34L1093.50 1588.20L1094.00 1584.11L1094.50 1580.24L1095.00 1576.50L1095.50 1572.66L1096.00 1568.95L1096.50 1565.60L1097.00 1562.87L1097.50 1560.92L1098.00 1559.48L1098.50 1558.30L1099.00 1557.13L1099.50 1555.74L1100.00 1553.94L1100.50 1551.93L1101.00 1549.44L1101.50 1546.04L1102.00 1540.64L1102.50 1528.73L1103.00 1514.71L1103.50 1498.89L1104.00 1483.58L1104.50 1468.44L1105.00 1459.77L1105.50 1455.82L1106.00 1453.62L1106.50 1453.95L1107.00 1456.74L1107.50 1460.70L1108.00 1466.67L1108.50 1475.24L1109.00 1484.66L1109.50 1494.36L1110.00 1505.12L1110.50 1515.57L1111.00 1524.83L1111.50 1533.50L1112.00 1541.89L1112.50 1550.28L1113.00 1558.91L1113.50 1567.66L1114.00 1576.39L1114.50 1584.93L1115.00 1593.22L1115.50 1601.77L1116.00 1610.06L1116.50 1617.34L1117.00 1623.02L1117.50 1628.13L1118.00 1632.81L1118.50 1636.80L1119.00 1639.87L1119.50 1641.80L1120.00 1643.23L1120.50 1644.51L1121.00 1645.58L1121.50 1646.41L1122.00 1646.97L1122.50 1647.20L1123.00 1647.26L1123.50 1647.31L1124.00 1647.36L1124.50 1647.41L1125.00 1647.45L1125.50 1647.49L1126.00 1647.53L1126.50 1647.56L1127.00 1647.59L1139.50 1647.60L1140.00 1647.57L1140.50 1647.53L1141.00 1647.48L1141.50 1647.42L1142.00 1647.36L1142.50 1647.30L1143.00 1647.23L1143.50 1647.14L1144.00 1646.95L1144.50 1646.67L1145.00 1646.29L1145.50 1645.82L1146.00 1645.26L1146.50 1644.62L1147.00 1643.90L1147.50 1643.10L1148.00 1642.24L1148.50 1641.30L1149.00 1639.89L1149.50 1637.90L1150.00 1635.42L1150.50 1632.55L1151.00 1629.38L1151.50 1626.00L1152.00 1621.69L1152.50 1616.25L1153.00 1610.53L1153.50 1605.40L1154.00 1600.70L1154.50 1595.86L1155.00 1591.09L1155.50 1586.64L1156.00 1582.74L1156.50 1579.62L1157.00 1577.50L1157.50 1576.00L1158.00 1574.60L1158.50 1573.32L1159.00 1572.19L1159.50 1571.24L1160.00 1570.49L1160.50 1569.98L1161.00 1569.72L1161.50 1569.76L1162.00 1570.12L1162.50 1570.76L1163.00 1571.63L1163.50 1572.71L1164.00 1573.93L1164.50 1575.26L1165.00 1576.65L1165.50 1578.12L1166.00 1580.07L1166.50 1582.50L1167.00 1585.31L1167.50 1588.37L1168.00 1591.56L1168.50 1594.76L1169.00 1597.87L1169.50 1600.76L1170.00 1603.65L1170.50 1606.64L1171.00 1609.65L1171.50 1612.66L1172.00 1615.60L1172.50 1618.43L1173.00 1621.10L1173.50 1623.54L1174.00 1625.84L1174.50 1628.16L1175.00 1630.46L1175.50 1632.67L1176.00 1634.71L1176.50 1636.51L1177.00 1638.02L1177.50 1639.16L1178.00 1639.95L1178.50 1640.67L1179.00 1641.35L1179.50 1641.97L1180.00 1642.54L1180.50 1643.03L1181.00 1643.44L1181.50 1643.76L1182.00 1643.98L1182.50 1644.09L1183.00 1644.09L1183.50 1644.00L1184.00 1643.84L1184.50 1643.61L1185.00 1643.32L1185.50 1642.97L1186.00 1642.58L1186.50 1642.15L1187.00 1641.69L1187.50 1641.19L1188.00 1640.68L1188.50 1640.15L1189.00 1639.61L1189.50 1639.00L1190.00 1638.23L1190.50 1637.31L1191.00 1636.27L1191.50 1635.15L1192.00 1633.99L1192.50 1632.81L1193.00 1631.64L1193.50 1630.52L1194.00 1629.49L1194.50 1628.53L1195.00 1627.56L1195.50 1626.58L1196.00 1625.60L1196.50 1624.64L1197.00 1623.73L1197.50 1622.87L1198.00 1622.08L1198.50 1621.38L1199.00 1620.79L1199.50 1620.22L1200.00 1619.65L1200.50 1619.10L1201.00 1618.59L1201.50 1618.13L1202.00 1617.76L1202.50 1617.48L1203.00 1617.33L1203.50 1617.32L1204.00 1617.49L1204.50 1617.82L1205.00 1618.28L1205.50 1618.85L1206.00 1619.50L1206.50 1620.20L1207.00 1620.92L1207.50 1621.63L1208.00 1622.33L1208.50 1623.15L1209.00 1624.07L1209.50 1625.06L1210.00 1626.12L1210.50 1627.21L1211.00 1628.31L1211.50 1629.40L1212.00 1630.46L1212.50 1631.46L1213.00 1632.38L1213.50 1633.28L1214.00 1634.18L1214.50 1635.08L1215.00 1635.97L1215.50 1636.83L1216.00 1637.66L1216.50 1638.46L1217.00 1639.20L1217.50 1639.88L1218.00 1640.50L1218.50 1641.08L1219.00 1641.64L1219.50 1642.18L1220.00 1642.70L1220.50 1643.20L1221.00 1643.66L1221.50 1644.09L1222.00 1644.47L1222.50 1644.81L1223.00 1645.10L1223.50 1645.34L1224.00 1645.57L1224.50 1645.78L1225.00 1645.98L1225.50 1646.17L1226.00 1646.35L1226.50 1646.51L1227.00 1646.66L1227.50 1646.79L1228.00 1646.92L1228.50 1647.03L1229.00 1647.13L1229.50 1647.22L1230.00 1647.30L1230.50 1647.38L1231.00 1647.45L1231.50 1647.52L1232.00 1647.59L1395.50 1647.60" stroke="#e0306c" stroke-width="1.8" fill="none" stroke-linejoin="round"/>
<path d="M755.5 1648.25L755.5 1972.5L1395.5 1972.5" stroke="#555555" stroke-width="1.5" fill="none"/>
<path d="M791.2 1972.5V1966" stroke="#555555" stroke-width="1.3"/>
<!--F_xt_rep 791.200 2000.000-->
<g transform="translate(790.099 2002.308) scale(1.1115 1.1636)"><text x="0" y="0" text-anchor="middle" font-size="19">-3</text></g>
<path d="M885.9 1972.5V1966" stroke="#555555" stroke-width="1.3"/>
<g transform="translate(884.799 2002.308) scale(1.1115 1.1636)"><text x="0" y="0" text-anchor="middle" font-size="19">-2</text></g>
<path d="M980.6 1972.5V1966" stroke="#555555" stroke-width="1.3"/>
<g transform="translate(979.499 2002.308) scale(1.1115 1.1636)"><text x="0" y="0" text-anchor="middle" font-size="19">-1</text></g>
<path d="M1075.3 1972.5V1966" stroke="#555555" stroke-width="1.3"/>
<g transform="translate(1074.199 2002.308) scale(1.1115 1.1636)"><text x="0" y="0" text-anchor="middle" font-size="19">0</text></g>
<path d="M1170 1972.5V1966" stroke="#555555" stroke-width="1.3"/>
<g transform="translate(1168.899 2002.308) scale(1.1115 1.1636)"><text x="0" y="0" text-anchor="middle" font-size="19">1</text></g>
<path d="M1264.7 1972.5V1966" stroke="#555555" stroke-width="1.3"/>
<g transform="translate(1263.599 2002.308) scale(1.1115 1.1636)"><text x="0" y="0" text-anchor="middle" font-size="19">2</text></g>
<path d="M1359.4 1972.5V1966" stroke="#555555" stroke-width="1.3"/>
<g transform="translate(1358.299 2002.308) scale(1.1115 1.1636)"><text x="0" y="0" text-anchor="middle" font-size="19">3</text></g>
<path d="M755.5 1972.5H762" stroke="#555555" stroke-width="1.3"/>
<g transform="translate(746.115 1980.462) scale(1.0369 1.1400)"><text x="0" y="0" text-anchor="end" font-size="19">0</text></g>
<path d="M755.5 1913.75H762" stroke="#555555" stroke-width="1.3"/>
<g transform="translate(746.115 1921.712) scale(1.0369 1.1400)"><text x="0" y="0" text-anchor="end" font-size="19">2</text></g>
<path d="M755.5 1855H762" stroke="#555555" stroke-width="1.3"/>
<g transform="translate(746.115 1862.962) scale(1.0369 1.1400)"><text x="0" y="0" text-anchor="end" font-size="19">4</text></g>
<path d="M755.5 1796.25H762" stroke="#555555" stroke-width="1.3"/>
<g transform="translate(746.115 1804.212) scale(1.0369 1.1400)"><text x="0" y="0" text-anchor="end" font-size="19">6</text></g>
<path d="M755.5 1737.5H762" stroke="#555555" stroke-width="1.3"/>
<g transform="translate(746.115 1745.462) scale(1.0369 1.1400)"><text x="0" y="0" text-anchor="end" font-size="19">8</text></g>
<path d="M755.5 1678.75H762" stroke="#555555" stroke-width="1.3"/>
<!--F_yt_rep 746.500 1685.552-->
<g transform="translate(746.115 1686.712) scale(1.0369 1.1400)"><text x="0" y="0" text-anchor="end" font-size="19">10</text></g>
<path d="M1395.5 1647.6V1432.4" stroke="#555555" stroke-width="1.5" fill="none"/>
<g transform="translate(1402.668 1655.919) scale(1.0393 1.1167)"><text x="0" y="0" text-anchor="start" font-size="19">0</text></g>
<path d="M1395.5 1593.8H1389" stroke="#555555" stroke-width="1.3"/>
<g transform="translate(1402.668 1602.119) scale(1.0393 1.1167)"><text x="0" y="0" text-anchor="start" font-size="19">0.05</text></g>
<path d="M1395.5 1540H1389" stroke="#555555" stroke-width="1.3"/>
<g transform="translate(1402.668 1548.319) scale(1.0393 1.1167)"><text x="0" y="0" text-anchor="start" font-size="19">0.1</text></g>
<path d="M1395.5 1486.2H1389" stroke="#555555" stroke-width="1.3"/>
<!--F_kt_rep 1403.500 1493.002-->
<g transform="translate(1402.668 1494.519) scale(1.0393 1.1167)"><text x="0" y="0" text-anchor="start" font-size="19">0.15</text></g>
<path d="M1395.5 1432.4H1389" stroke="#555555" stroke-width="1.3"/>
<g transform="translate(1402.668 1440.719) scale(1.0393 1.1167)"><text x="0" y="0" text-anchor="start" font-size="19">0.2</text></g>
<!--F_ylab 713.724 1812.605--><g transform="translate(713.724 1812.605) scale(0.9677 1.0089)"><text transform="rotate(-90)" text-anchor="middle" font-size="22.4">Sample number</text></g>
<!--F_klab 1469.117 1539.100--><g transform="translate(1469.117 1539.100) scale(0.9677 0.9950)"><text transform="rotate(-90)" text-anchor="middle" font-size="22.4">KDE (mccv)</text></g>
<!--F_xlab 1013.006 2031.316--><g transform="translate(1013.006 2031.316) scale(0.9362 1.0102)"><text x="0" y="0" font-size="22.4">T<tspan dx="1.79" dy="11.2" font-size="17.92" letter-spacing="1.34">pred</tspan><tspan dx="2.24" dy="-11.2"> (mccv)</tspan></text></g>
<circle cx="1044.25" cy="1678.75" r="5.5" fill="none" stroke="#348a7b" stroke-width="1.8"/>
<circle cx="1040" cy="1796.25" r="5.5" fill="none" stroke="#348a7b" stroke-width="1.8"/>
<circle cx="1053.5" cy="1825.62" r="5.5" fill="none" stroke="#348a7b" stroke-width="1.8"/>
<circle cx="947.5" cy="1855" r="5.5" fill="none" stroke="#348a7b" stroke-width="1.8"/>
<circle cx="991.75" cy="1884.38" r="5.5" fill="none" stroke="#348a7b" stroke-width="1.8"/>
<circle cx="1050.5" cy="1913.75" r="5.5" fill="none" stroke="#348a7b" stroke-width="1.8"/>
<circle cx="985" cy="1943.12" r="5.5" fill="none" stroke="#348a7b" stroke-width="1.8"/>
<path d="M1103 1675.4L1109.7 1682.1M1103 1682.1L1109.7 1675.4" stroke="#e0306c" stroke-width="2.0" stroke-linecap="round" fill="none"/>
<path d="M1107.25 1792.9L1113.95 1799.6M1107.25 1799.6L1113.95 1792.9" stroke="#e0306c" stroke-width="2.0" stroke-linecap="round" fill="none"/>
<path d="M1093.75 1822.28L1100.45 1828.97M1093.75 1828.97L1100.45 1822.28" stroke="#e0306c" stroke-width="2.0" stroke-linecap="round" fill="none"/>
<path d="M1199.75 1851.65L1206.45 1858.35M1199.75 1858.35L1206.45 1851.65" stroke="#e0306c" stroke-width="2.0" stroke-linecap="round" fill="none"/>
<path d="M1155.5 1881.03L1162.2 1887.72M1155.5 1887.72L1162.2 1881.03" stroke="#e0306c" stroke-width="2.0" stroke-linecap="round" fill="none"/>
<path d="M1096.75 1910.4L1103.45 1917.1M1096.75 1917.1L1103.45 1910.4" stroke="#e0306c" stroke-width="2.0" stroke-linecap="round" fill="none"/>
<path d="M1162.25 1939.78L1168.95 1946.47M1162.25 1946.47L1168.95 1939.78" stroke="#e0306c" stroke-width="2.0" stroke-linecap="round" fill="none"/>
<!--F_letter 802.666 1427.793--><g transform="translate(802.666 1427.793) scale(0.7779 0.9795)"><text x="0" y="0" font-size="51" font-weight="bold" stroke="#000" stroke-width="1.6" stroke-linejoin="round">F</text></g>
<g transform="translate(969.49 1408.96) scale(1.0716 1.0706)"><text x="0" y="0" font-size="24.0" font-weight="bold" stroke="#000" stroke-width="0.35">R<tspan font-size="18.24" dy="-10.32">2</tspan><tspan font-size="18.24" dx="-10.14" dy="21.12">Y</tspan><tspan dy="-10.8">: 0.99, Q</tspan><tspan font-size="18.24" dy="-10.32">2</tspan><tspan font-size="18.24" dx="-10.14" dy="21.12">Y</tspan><tspan dy="-10.8">: 0.73</tspan></text></g>
</svg></body></html>
